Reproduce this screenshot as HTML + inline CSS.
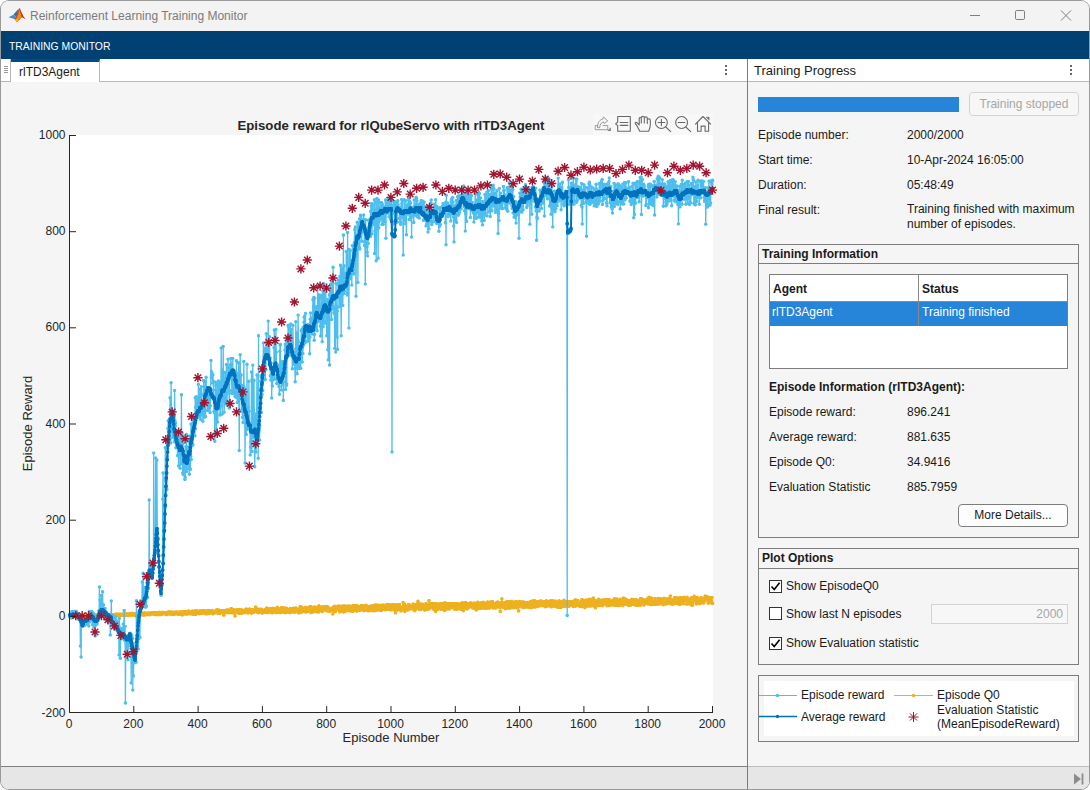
<!DOCTYPE html>
<html><head><meta charset="utf-8"><title>Reinforcement Learning Training Monitor</title>
<style>
*{box-sizing:border-box;margin:0;padding:0}
html,body{width:1090px;height:790px;overflow:hidden;background:#fff;font-family:"Liberation Sans",sans-serif;font-size:12px;color:#1a1a1a}
.abs{position:absolute}
#desk{position:absolute;left:0;top:0;width:1090px;height:790px;background:#fdfdfd;overflow:hidden}
#win{position:absolute;left:1px;top:1px;width:1088px;height:788px;border-radius:8px;background:#f5f5f5;overflow:hidden;box-shadow:0 0 0 1px #9a9a9a}
#title{position:absolute;left:0;top:0;width:100%;height:30px;background:#f3f3f3}
#title .txt{position:absolute;left:29px;top:8px;font-size:12px;color:#7b7b7b;white-space:nowrap;letter-spacing:0}
#band{position:absolute;left:0;top:30px;width:100%;height:28px;background:#004073}
#band .txt{position:absolute;left:8px;top:9.5px;font-size:10.4px;color:#fff;white-space:nowrap}
#tabrow{position:absolute;left:0;top:58px;width:746px;height:23px;background:#fff;border-bottom:1px solid #b9b9b9}
#grip{position:absolute;left:0;top:0;width:10px;height:23px;background:#fff;border-right:1px solid #b5b5b5;border-bottom:1px solid #b5b5b5}
#tab{position:absolute;left:10px;top:0;width:89px;height:23px;background:#fff;border-top:3px solid #004b87;border-right:1px solid #b5b5b5}
#tab .txt{position:absolute;left:8px;top:3px;font-size:12px;color:#1a1a1a}
#fig{position:absolute;left:0;top:81px;width:746px;height:685px;background:#f5f5f5}
#vdiv{position:absolute;left:746px;top:58px;width:1px;height:730px;background:#7c7c7c;z-index:5}
#status{position:absolute;left:0;top:765px;width:100%;height:23px;background:#e6e6e6;border-top:1px solid #bdbdbd}
#status .l{position:absolute;left:0;top:-1px;width:746px;height:1px;background:#808080}
#rhead{position:absolute;left:747px;top:58px;width:341px;height:23px;background:#fff;border-bottom:1px solid #b9b9b9}
#rhead .txt{position:absolute;left:6px;top:4px;font-size:13px;color:#1a1a1a}
#rpanel{position:absolute;left:749px;top:81px;width:339px;height:684px;background:#f5f5f5}
.lbl{position:absolute;white-space:nowrap;font-size:12px;color:#1a1a1a}
.b{font-weight:bold}
.grp{position:absolute;border:1px solid #7d7d7d;background:#f5f5f5}
.grp .hd{position:absolute;left:0;top:0;width:100%;height:19px;border-bottom:1px solid #7d7d7d;font-weight:bold;font-size:12px;padding:2px 0 0 3px}
.grp .hd.h20{height:20px;padding-top:2px}
.btn{position:absolute;border:1px solid #7d7d7d;border-radius:4px;background:#fdfdfd;text-align:center;font-size:12px}
.cb{position:absolute;width:13px;height:13px;border:1px solid #333;background:#fff}
svg.plot{position:absolute;left:60px;top:125px}
.tick{position:absolute;font-size:12px;color:#262626;white-space:nowrap}
.tick.xt{top:717px;width:60px;text-align:center;margin-left:-0.5px}
.btn.dis{border-color:#d2d2d2;color:#a6a6a6;background:#f7f7f7}
.th{font-weight:bold;font-size:12px}
#tbar{}

</style></head>
<body>
<div id="desk">
<div id="win">
  <div id="title">
    <svg class="abs" style="left:4.5px;top:4px" width="22" height="22" viewBox="0 0 22 22">
      <path d="M2.6 12.2 L7.5 9.8 L10 11.8 L8.2 14 Z" fill="#3b8fd0"/>
      <path d="M7.5 9.6 L10.2 6.6 L12.6 3.6 L10.8 10.5 L10 11.8 Z" fill="#2f6fa5"/>
      <path d="M8.2 14 L10 11.8 L12 6 L13.2 3.2 L14 3.6 L15.4 7 L17.6 11.6 L19.6 14.4 L17.4 13 L15.6 12.2 L13.6 14.6 L11.2 17 Z" fill="#c8371a"/>
      <path d="M11.2 17 L9.8 15 L12.6 8 L13.4 4 L14.8 9 L15.6 12.2 L13.6 14.6 Z" fill="#f08a1d"/>
      <path d="M9 14.6 L11.2 17 L12.4 15.2 L10.4 13.6 Z" fill="#f6b31c"/>
    </svg>
    <div class="txt">Reinforcement Learning Training Monitor</div>
    <svg class="abs" style="left:960px;top:0" width="128" height="30" viewBox="0 0 128 30" fill="none" stroke="#7e7e7e" stroke-width="1">
      <path d="M9 14.5H19"/>
      <rect x="54.5" y="9.5" width="9" height="9" rx="1.2"/>
      <path d="M100 9.5L110 19.5M110 9.5L100 19.5"/>
    </svg>
  </div>
  <div id="band"><div class="txt">TRAINING MONITOR</div></div>
  <div id="tabrow"><div id="grip"><svg class="abs" style="left:3px;top:0" width="6" height="20"><path d="M0 7.5H4M0 9.5H4M0 11.5H4M0 13.5H4" stroke="#999" stroke-width="1"/></svg></div><div id="tab"><div class="txt">rlTD3Agent</div></div>
    <svg class="abs" style="left:722px;top:6px" width="6" height="12"><rect x="2" y="0" width="2" height="2" fill="#666"/><rect x="2" y="4" width="2" height="2" fill="#666"/><rect x="2" y="8" width="2" height="2" fill="#666"/></svg>
  </div>
  <div id="fig">
    <div id="tbar"></div>
  </div>
  <div id="rhead"><div class="txt">Training Progress</div>
    <svg class="abs" style="left:320px;top:6px" width="6" height="12"><rect x="2" y="0" width="2" height="2" fill="#666"/><rect x="2" y="4" width="2" height="2" fill="#666"/><rect x="2" y="8" width="2" height="2" fill="#666"/></svg>
  </div>
  <div id="rpanel">
    <!-- coordinates inside rpanel: subtract (750,82) from page coords -->
    <div class="abs" style="left:8px;top:15px;width:201px;height:15px;background:#2684d9"></div>
    <div class="btn dis" style="left:219px;top:10px;width:110px;height:24px;line-height:22px">Training stopped</div>

    <div class="lbl" style="left:8px;top:46px">Episode number:</div><div class="lbl" style="left:157px;top:46px">2000/2000</div>
    <div class="lbl" style="left:8px;top:71px">Start time:</div><div class="lbl" style="left:157px;top:71px">10-Apr-2024 16:05:00</div>
    <div class="lbl" style="left:8px;top:96px">Duration:</div><div class="lbl" style="left:157px;top:96px">05:48:49</div>
    <div class="lbl" style="left:8px;top:121px">Final result:</div><div class="lbl" style="left:157px;top:121px;line-height:14.5px;top:120px">Training finished with maximum<br>number of episodes.</div>

    <div class="grp" style="left:8px;top:162px;width:321px;height:294px">
      <div class="hd">Training Information</div>
      <div class="abs" style="left:10px;top:29px;width:299px;height:95px;border:1px solid #7d7d7d;background:#fff">
        <div class="abs" style="left:0;top:0;width:297px;height:27px;background:#fff;border-bottom:1px solid #8a8a8a"></div>
        <div class="abs" style="left:148px;top:0;width:1px;height:51px;background:#8a8a8a"></div>
        <div class="abs th" style="left:3px;top:7px">Agent</div>
        <div class="abs th" style="left:152px;top:7px">Status</div>
        <div class="abs" style="left:0;top:27px;width:148px;height:24px;background:#2684d9;color:#fff;padding:3px 0 0 2px">rlTD3Agent</div>
        <div class="abs" style="left:149px;top:27px;width:148px;height:24px;background:#2684d9;color:#fff;padding:3px 0 0 3px">Training finished</div>
      </div>
      <div class="lbl b" style="left:10px;top:135px">Episode Information (rlTD3Agent):</div>
      <div class="lbl" style="left:10px;top:160px">Episode reward:</div><div class="lbl" style="left:148px;top:160px">896.241</div>
      <div class="lbl" style="left:10px;top:185px">Average reward:</div><div class="lbl" style="left:148px;top:185px">881.635</div>
      <div class="lbl" style="left:10px;top:210px">Episode Q0:</div><div class="lbl" style="left:148px;top:210px">34.9416</div>
      <div class="lbl" style="left:10px;top:235px">Evaluation Statistic</div><div class="lbl" style="left:148px;top:235px">885.7959</div>
      <div class="btn" style="left:199px;top:259px;width:110px;height:23px;line-height:21px">More Details...</div>
    </div>

    <div class="grp" style="left:8px;top:466px;width:321px;height:117px">
      <div class="hd h20">Plot Options</div>
      <div class="cb" style="left:10px;top:31px"><svg width="11" height="11" viewBox="0 0 11 11"><path d="M1.5 5.5L4.2 8.6L9.6 1.8" stroke="#000" stroke-width="1.6" fill="none"/></svg></div>
      <div class="lbl" style="left:27px;top:30px">Show EpisodeQ0</div>
      <div class="cb" style="left:10px;top:58px"></div>
      <div class="lbl" style="left:27px;top:58px">Show last N episodes</div>
      <div class="abs" style="left:172px;top:55px;width:137px;height:20px;border:1px solid #d2d2d2;background:#f7f7f7;color:#a6a6a6;text-align:right;padding:2px 4px 0 0">2000</div>
      <div class="cb" style="left:10px;top:88px"><svg width="11" height="11" viewBox="0 0 11 11"><path d="M1.5 5.5L4.2 8.6L9.6 1.8" stroke="#000" stroke-width="1.6" fill="none"/></svg></div>
      <div class="lbl" style="left:27px;top:87px">Show Evaluation statistic</div>
    </div>

    <div class="grp" style="left:8px;top:593px;width:321px;height:67px">
      <div class="abs" style="left:5px;top:5px;width:310px;height:55px;background:#fff"></div>
      <svg class="abs" style="left:0;top:0" width="319" height="65" viewBox="0 0 319 65">
        <path d="M0 19.5H38" stroke="#4dbeee" stroke-width="1"/><circle cx="18.5" cy="19.5" r="1.7" fill="#4dbeee"/>
        <path d="M0 40.5H38" stroke="#0072bd" stroke-width="1.3"/><circle cx="18.5" cy="40.5" r="1.7" fill="#0072bd"/>
        <path d="M135 19.5H174" stroke="#edb120" stroke-width="1"/><circle cx="154.5" cy="19.5" r="1.7" fill="#edb120"/>
        <path d="M154.5 36V46M149.5 41H159.5M151 37.5L158 44.5M151 44.5L158 37.5" stroke="#a2142f" stroke-width="1" fill="none"/>
      </svg>
      <div class="lbl lg" style="left:42px;top:12px">Episode reward</div>
      <div class="lbl lg" style="left:42px;top:34px">Average reward</div>
      <div class="lbl lg" style="left:178px;top:12px">Episode Q0</div>
      <div class="lbl lg" style="left:178px;top:27px;line-height:14px">Evaluation Statistic<br>(MeanEpisodeReward)</div>
    </div>
  </div>
  <div id="vdiv"></div>
  <div id="status"><div class="l"></div>
    <svg class="abs" style="left:1072px;top:5px" width="12" height="14" viewBox="0 0 12 14"><path d="M1 1.5L8 7L1 12.5Z" fill="#8c8c8c"/><path d="M9.5 1.5V12.5" stroke="#8c8c8c" stroke-width="1.8"/></svg>
  </div>
</div>
<svg class="plot" width="660" height="600" viewBox="60 125 660 600">
<defs><marker id="mq" markerWidth="4" markerHeight="4" refX="2" refY="2" markerUnits="userSpaceOnUse"><circle cx="2" cy="2" r="1.8" fill="#edb120"/></marker><marker id="me" markerWidth="4" markerHeight="4" refX="2" refY="2" markerUnits="userSpaceOnUse"><circle cx="2" cy="2" r="1.7" fill="#4dbeee"/></marker><marker id="ma" markerWidth="4" markerHeight="4" refX="2" refY="2" markerUnits="userSpaceOnUse"><circle cx="2" cy="2" r="1.9" fill="#0072bd"/></marker><g id="st"><path d="M0-4.6V4.6M-4.6 0H4.6M-3.25-3.25L3.25 3.25M-3.25 3.25L3.25-3.25" stroke="#a2142f" stroke-width="1.4" fill="none"/></g></defs>
<rect x="69" y="135" width="644" height="578" fill="#fff"/>
<polyline fill="none" stroke="#edb120" stroke-width="1" stroke-linejoin="round" marker-start="url(#mq)" marker-mid="url(#mq)" marker-end="url(#mq)" points="69.8,616.5 70.1,616.6 70.5,616.7 70.8,616.3 71.1,616.3 71.4,616.6 71.8,616.4 72.1,616.6 72.4,616.3 72.7,616.2 73.0,616.5 73.4,616.6 73.7,616.2 74.0,616.3 74.3,616.2 74.6,616.3 75.0,616.5 75.3,616.4 75.6,616.6 75.9,616.5 76.3,616.1 76.6,616.3 76.9,616.1 77.2,616.3 77.5,616.4 77.9,616.2 78.2,616.1 78.5,616.3 78.8,616.4 79.1,616.0 79.5,616.0 79.8,616.1 80.1,615.9 80.4,616.0 80.8,616.1 81.1,616.3 81.4,615.9 81.7,615.8 82.0,616.1 82.4,616.0 82.7,615.9 83.0,615.9 83.3,615.9 83.6,616.1 84.0,615.9 84.3,616.3 84.6,615.9 84.9,615.9 85.3,616.0 85.6,615.8 85.9,615.6 86.2,615.7 86.5,615.7 86.9,615.7 87.2,615.9 87.5,616.0 87.8,616.2 88.1,615.6 88.5,616.0 88.8,615.7 89.1,615.6 89.4,615.9 89.8,615.5 90.1,615.7 90.4,616.0 90.7,615.5 91.0,615.6 91.4,615.4 91.7,615.6 92.0,615.7 92.3,615.9 92.6,615.9 93.0,615.7 93.3,615.4 93.6,615.7 93.9,615.5 94.3,615.5 94.6,615.3 94.9,615.8 95.2,615.8 95.5,615.2 95.9,615.3 96.2,615.5 96.5,615.2 96.8,615.8 97.1,615.2 97.5,615.4 97.8,615.2 98.1,615.5 98.4,615.4 98.8,615.3 99.1,615.7 99.4,615.8 99.7,615.5 100.0,615.7 100.4,615.6 100.7,615.3 101.0,615.7 101.3,615.0 101.7,615.2 102.0,615.4 102.3,615.0 102.6,615.7 102.9,614.9 103.3,615.0 103.6,615.3 103.9,615.0 104.2,615.4 104.5,615.6 104.9,615.6 105.2,615.0 105.5,615.4 105.8,615.4 106.2,614.9 106.5,614.8 106.8,615.3 107.1,615.3 107.4,615.1 107.8,615.2 108.1,614.7 108.4,615.1 108.7,615.3 109.0,615.6 109.4,614.6 109.7,615.2 110.0,614.6 110.3,614.6 110.7,615.1 111.0,615.3 111.3,614.8 111.6,615.4 111.9,614.7 112.3,615.5 112.6,614.9 112.9,614.7 113.2,614.8 113.5,614.5 113.9,615.4 114.2,614.7 114.5,614.7 114.8,614.6 115.2,614.9 115.5,614.2 115.8,615.0 116.1,615.1 116.4,614.3 116.8,614.5 117.1,614.3 117.4,614.7 117.7,615.3 118.0,614.7 118.4,614.9 118.7,614.3 119.0,614.8 119.3,614.7 119.7,615.1 120.0,614.2 120.3,614.9 120.6,615.1 120.9,614.2 121.3,614.6 121.6,615.1 121.9,614.8 122.2,614.6 122.5,614.3 122.9,615.2 123.2,614.7 123.5,614.1 123.8,614.6 124.2,615.1 124.5,613.8 124.8,614.2 125.1,615.0 125.4,614.0 125.8,615.0 126.1,615.0 126.4,614.1 126.7,615.0 127.0,614.0 127.4,614.8 127.7,614.5 128.0,614.3 128.3,615.2 128.7,615.0 129.0,614.3 129.3,614.1 129.6,614.4 129.9,614.3 130.3,614.9 130.6,613.9 130.9,614.1 131.2,613.8 131.5,614.9 131.9,613.3 132.2,615.0 132.5,614.2 132.8,614.6 133.2,614.2 133.5,614.2 133.8,614.7 134.1,614.6 134.4,613.5 134.8,615.2 135.1,614.4 135.4,613.7 135.7,613.9 136.1,613.5 136.4,614.8 136.7,614.6 137.0,613.4 137.3,614.1 137.7,614.5 138.0,613.4 138.3,613.6 138.6,614.0 138.9,614.6 139.3,614.3 139.6,613.5 139.9,614.5 140.2,613.3 140.6,614.2 140.9,614.1 141.2,613.6 141.5,612.7 141.8,613.8 142.2,613.6 142.5,614.7 142.8,614.6 143.1,614.9 143.4,614.3 143.8,613.7 144.1,613.0 144.4,613.9 144.7,614.6 145.1,613.3 145.4,614.2 145.7,614.9 146.0,613.6 146.3,614.0 146.7,613.1 147.0,614.1 147.3,613.3 147.6,613.9 147.9,613.9 148.3,614.1 148.6,613.4 148.9,614.8 149.2,613.2 149.6,613.5 149.9,613.3 150.2,614.6 150.5,613.3 150.8,613.8 151.2,613.3 151.5,613.7 151.8,612.9 152.1,613.1 152.4,613.6 152.8,612.7 153.1,613.7 153.4,613.0 153.7,612.9 154.1,614.4 154.4,613.1 154.7,613.6 155.0,612.6 155.3,614.7 155.7,614.1 156.0,612.7 156.3,613.4 156.6,614.3 156.9,613.5 157.3,613.6 157.6,613.4 157.9,612.8 158.2,614.7 158.6,612.6 158.9,613.2 159.2,612.4 159.5,613.5 159.8,614.1 160.2,614.6 160.5,613.4 160.8,612.8 161.1,612.5 161.4,613.8 161.8,614.0 162.1,614.1 162.4,612.4 162.7,613.0 163.1,613.3 163.4,613.7 163.7,612.8 164.0,613.3 164.3,612.7 164.7,613.4 165.0,612.7 165.3,613.8 165.6,612.8 165.9,614.2 166.3,614.5 166.6,613.3 166.9,612.6 167.2,614.5 167.6,612.3 167.9,613.4 168.2,612.8 168.5,612.3 168.8,613.5 169.2,612.9 169.5,611.8 169.8,614.1 170.1,613.2 170.5,613.0 170.8,612.9 171.1,613.5 171.4,614.1 171.7,612.0 172.1,612.7 172.4,612.8 172.7,614.5 173.0,613.1 173.3,612.3 173.7,614.3 174.0,613.9 174.3,614.1 174.6,612.8 175.0,613.5 175.3,612.7 175.6,613.6 175.9,612.1 176.2,612.9 176.6,612.1 176.9,612.8 177.2,614.0 177.5,613.2 177.8,613.7 178.2,613.5 178.5,614.3 178.8,612.2 179.1,612.8 179.5,613.5 179.8,612.3 180.1,613.0 180.4,614.2 180.7,612.0 181.1,612.0 181.4,612.7 181.7,612.5 182.0,612.7 182.3,615.0 182.7,612.1 183.0,612.4 183.3,613.5 183.6,612.1 184.0,613.4 184.3,612.3 184.6,611.6 184.9,614.0 185.2,613.7 185.6,612.2 185.9,613.0 186.2,611.6 186.5,613.9 186.8,612.6 187.2,611.8 187.5,613.8 187.8,611.8 188.1,613.7 188.5,611.1 188.8,611.4 189.1,612.7 189.4,613.7 189.7,612.1 190.1,612.5 190.4,613.1 190.7,613.6 191.0,613.3 191.3,612.8 191.7,611.9 192.0,613.9 192.3,613.4 192.6,611.0 193.0,613.0 193.3,614.2 193.6,611.8 193.9,614.2 194.2,613.0 194.6,611.8 194.9,611.0 195.2,611.2 195.5,612.6 195.8,614.3 196.2,610.9 196.5,613.4 196.8,610.8 197.1,611.9 197.5,612.0 197.8,611.3 198.1,611.8 198.4,612.4 198.7,612.0 199.1,613.6 199.4,612.4 199.7,611.1 200.0,611.5 200.4,611.2 200.7,611.6 201.0,612.6 201.3,613.3 201.6,611.3 202.0,612.8 202.3,610.7 202.6,612.9 202.9,611.4 203.2,610.8 203.6,610.8 203.9,610.6 204.2,612.0 204.5,611.2 204.9,613.2 205.2,613.6 205.5,611.2 205.8,612.7 206.1,613.8 206.5,613.3 206.8,612.3 207.1,610.9 207.4,612.3 207.7,613.8 208.1,611.3 208.4,610.5 208.7,613.4 209.0,611.0 209.4,610.5 209.7,612.4 210.0,610.9 210.3,611.6 210.6,612.9 211.0,611.5 211.3,612.5 211.6,611.3 211.9,610.5 212.2,612.6 212.6,611.4 212.9,613.6 213.2,613.6 213.5,611.4 213.9,611.9 214.2,612.4 214.5,611.6 214.8,612.7 215.1,612.6 215.5,611.6 215.8,611.0 216.1,611.1 216.4,611.7 216.7,610.1 217.1,610.1 217.4,610.3 217.7,612.7 218.0,613.0 218.4,613.4 218.7,610.0 219.0,611.6 219.3,613.5 219.6,613.3 220.0,611.3 220.3,611.1 220.6,612.3 220.9,612.0 221.2,611.6 221.6,610.7 221.9,610.8 222.2,612.2 222.5,612.3 222.9,612.2 223.2,613.3 223.5,611.1 223.8,615.2 224.1,610.7 224.5,612.7 224.8,612.3 225.1,612.7 225.4,611.9 225.7,611.2 226.1,611.9 226.4,610.2 226.7,611.3 227.0,610.5 227.4,609.9 227.7,610.5 228.0,612.7 228.3,612.2 228.6,610.4 229.0,612.0 229.3,611.8 229.6,612.3 229.9,612.0 230.2,612.7 230.6,611.8 230.9,612.0 231.2,608.6 231.5,611.8 231.9,612.0 232.2,612.8 232.5,611.6 232.8,611.8 233.1,610.4 233.5,611.0 233.8,609.7 234.1,612.1 234.4,613.3 234.8,612.7 235.1,616.1 235.4,612.6 235.7,611.1 236.0,611.6 236.4,610.0 236.7,611.9 237.0,612.2 237.3,609.8 237.6,610.6 238.0,611.0 238.3,609.7 238.6,610.1 238.9,613.3 239.3,609.7 239.6,612.5 239.9,610.4 240.2,612.1 240.5,612.1 240.9,611.6 241.2,613.3 241.5,609.9 241.8,612.2 242.1,610.7 242.5,612.3 242.8,612.9 243.1,612.2 243.4,611.3 243.8,611.6 244.1,610.3 244.4,611.5 244.7,611.2 245.0,610.9 245.4,612.6 245.7,611.7 246.0,609.8 246.3,609.1 246.6,611.2 247.0,610.0 247.3,609.6 247.6,610.3 247.9,613.0 248.3,612.5 248.6,610.5 248.9,610.3 249.2,610.9 249.5,609.1 249.9,611.0 250.2,610.7 250.5,609.8 250.8,610.9 251.1,609.6 251.5,613.1 251.8,609.6 252.1,612.0 252.4,610.7 252.8,610.7 253.1,610.2 253.4,612.4 253.7,610.5 254.0,611.0 254.4,609.9 254.7,611.5 255.0,611.1 255.3,610.8 255.6,607.1 256.0,609.7 256.3,611.6 256.6,610.4 256.9,611.9 257.3,610.0 257.6,611.6 257.9,609.0 258.2,609.8 258.5,612.7 258.9,610.2 259.2,611.3 259.5,611.6 259.8,612.0 260.1,609.9 260.5,609.2 260.8,611.4 261.1,610.8 261.4,611.5 261.8,609.4 262.1,613.1 262.4,610.9 262.7,612.7 263.0,612.1 263.4,611.6 263.7,611.2 264.0,611.1 264.3,612.1 264.7,611.3 265.0,609.7 265.3,611.6 265.6,610.0 265.9,612.2 266.3,611.9 266.6,608.1 266.9,611.8 267.2,608.6 267.5,611.7 267.9,612.6 268.2,608.6 268.5,611.2 268.8,609.2 269.2,610.7 269.5,609.0 269.8,611.0 270.1,610.7 270.4,609.8 270.8,612.6 271.1,608.7 271.4,609.5 271.7,610.1 272.0,611.1 272.4,608.3 272.7,612.4 273.0,612.7 273.3,610.0 273.7,609.6 274.0,609.3 274.3,608.9 274.6,610.7 274.9,611.1 275.3,609.4 275.6,610.8 275.9,611.9 276.2,610.7 276.5,612.5 276.9,611.2 277.2,607.3 277.5,612.3 277.8,609.9 278.2,611.3 278.5,611.9 278.8,611.6 279.1,612.4 279.4,610.2 279.8,609.6 280.1,612.6 280.4,611.3 280.7,608.6 281.0,612.4 281.4,609.8 281.7,607.6 282.0,611.9 282.3,610.1 282.7,611.1 283.0,608.6 283.3,608.3 283.6,611.5 283.9,608.4 284.3,608.2 284.6,612.5 284.9,608.3 285.2,609.5 285.5,612.5 285.9,610.0 286.2,608.4 286.5,608.5 286.8,612.1 287.2,610.0 287.5,611.9 287.8,610.8 288.1,611.0 288.4,609.5 288.8,611.1 289.1,609.8 289.4,610.9 289.7,612.6 290.0,609.3 290.4,608.5 290.7,612.2 291.0,610.2 291.3,610.8 291.7,609.4 292.0,608.9 292.3,609.9 292.6,611.6 292.9,611.6 293.3,608.2 293.6,610.3 293.9,610.5 294.2,612.2 294.6,609.4 294.9,611.2 295.2,609.1 295.5,611.9 295.8,608.0 296.2,609.3 296.5,609.3 296.8,610.0 297.1,610.5 297.4,610.1 297.8,609.1 298.1,610.3 298.4,612.2 298.7,610.6 299.1,612.9 299.4,609.1 299.7,611.8 300.0,612.0 300.3,606.6 300.7,609.1 301.0,610.7 301.3,611.0 301.6,607.9 301.9,612.1 302.3,608.1 302.6,610.4 302.9,608.2 303.2,610.7 303.6,609.6 303.9,611.4 304.2,610.8 304.5,608.9 304.8,608.8 305.2,611.3 305.5,607.4 305.8,612.1 306.1,609.8 306.4,610.7 306.8,608.7 307.1,611.1 307.4,608.8 307.7,607.9 308.1,611.0 308.4,611.3 308.7,610.8 309.0,611.4 309.3,609.2 309.7,607.1 310.0,608.2 310.3,606.7 310.6,611.2 310.9,612.6 311.3,607.0 311.6,608.3 311.9,611.5 312.2,611.9 312.6,611.7 312.9,609.7 313.2,611.1 313.5,611.7 313.8,608.1 314.2,608.1 314.5,607.1 314.8,607.8 315.1,607.3 315.4,608.6 315.8,609.2 316.1,607.8 316.4,610.2 316.7,611.8 317.1,608.3 317.4,610.3 317.7,608.1 318.0,607.0 318.3,608.6 318.7,612.0 319.0,605.9 319.3,607.3 319.6,610.6 319.9,608.8 320.3,608.8 320.6,608.7 320.9,610.3 321.2,609.4 321.6,609.2 321.9,610.9 322.2,606.8 322.5,611.5 322.8,607.6 323.2,609.3 323.5,608.4 323.8,606.9 324.1,607.6 324.4,609.6 324.8,609.7 325.1,608.9 325.4,606.7 325.7,609.5 326.1,609.5 326.4,609.1 326.7,606.5 327.0,610.9 327.3,608.6 327.7,608.5 328.0,607.0 328.3,609.9 328.6,608.4 329.0,610.3 329.3,609.1 329.6,611.3 329.9,610.2 330.2,609.6 330.6,610.1 330.9,609.4 331.2,610.1 331.5,610.3 331.8,609.8 332.2,608.0 332.5,608.3 332.8,613.9 333.1,610.9 333.5,607.3 333.8,611.2 334.1,610.4 334.4,611.5 334.7,606.3 335.1,611.5 335.4,611.2 335.7,609.6 336.0,608.1 336.3,607.7 336.7,608.2 337.0,609.2 337.3,606.8 337.6,608.4 338.0,608.7 338.3,606.1 338.6,610.0 338.9,609.0 339.2,607.3 339.6,607.6 339.9,611.9 340.2,611.4 340.5,610.0 340.8,606.2 341.2,611.1 341.5,611.3 341.8,606.4 342.1,610.7 342.5,609.7 342.8,606.7 343.1,609.2 343.4,611.2 343.7,611.9 344.1,605.9 344.4,610.5 344.7,606.3 345.0,609.6 345.3,611.3 345.7,607.6 346.0,609.2 346.3,610.2 346.6,608.9 347.0,607.2 347.3,608.0 347.6,606.0 347.9,608.5 348.2,607.7 348.6,610.3 348.9,608.3 349.2,610.8 349.5,610.4 349.8,606.0 350.2,609.8 350.5,607.9 350.8,607.1 351.1,610.7 351.5,609.7 351.8,611.2 352.1,608.0 352.4,611.2 352.7,608.3 353.1,605.6 353.4,610.7 353.7,605.7 354.0,608.2 354.3,608.5 354.7,610.5 355.0,609.0 355.3,609.2 355.6,607.3 356.0,605.6 356.3,609.4 356.6,611.1 356.9,605.7 357.2,608.4 357.6,608.8 357.9,606.8 358.2,607.5 358.5,608.1 358.9,610.4 359.2,606.6 359.5,609.7 359.8,607.7 360.1,610.1 360.5,609.8 360.8,607.5 361.1,606.8 361.4,605.5 361.7,607.2 362.1,607.4 362.4,607.6 362.7,609.4 363.0,606.4 363.4,609.1 363.7,610.8 364.0,605.7 364.3,608.4 364.6,610.4 365.0,607.0 365.3,608.3 365.6,609.4 365.9,606.0 366.2,605.3 366.6,609.9 366.9,608.7 367.2,608.6 367.5,606.8 367.9,610.7 368.2,610.6 368.5,606.6 368.8,609.7 369.1,610.6 369.5,609.4 369.8,608.1 370.1,609.1 370.4,610.1 370.7,606.2 371.1,610.6 371.4,609.5 371.7,608.5 372.0,608.5 372.4,605.8 372.7,610.5 373.0,609.5 373.3,607.5 373.6,606.0 374.0,608.4 374.3,606.0 374.6,610.7 374.9,609.2 375.2,605.0 375.6,610.4 375.9,605.8 376.2,608.6 376.5,608.0 376.9,608.3 377.2,608.8 377.5,605.0 377.8,608.9 378.1,610.0 378.5,606.3 378.8,609.5 379.1,607.6 379.4,606.1 379.7,608.1 380.1,610.2 380.4,606.4 380.7,605.2 381.0,606.7 381.4,610.5 381.7,607.9 382.0,609.5 382.3,608.7 382.6,605.9 383.0,605.1 383.3,609.1 383.6,605.7 383.9,609.3 384.2,609.4 384.6,605.7 384.9,608.1 385.2,609.8 385.5,606.8 385.9,609.1 386.2,607.4 386.5,604.9 386.8,609.5 387.1,605.8 387.5,608.2 387.8,604.6 388.1,606.9 388.4,609.1 388.7,605.1 389.1,604.5 389.4,607.4 389.7,609.1 390.0,609.7 390.4,609.1 390.7,607.4 391.0,607.0 391.3,609.8 391.6,606.0 392.0,607.6 392.3,604.6 392.6,608.1 392.9,607.7 393.3,605.7 393.6,608.0 393.9,605.7 394.2,609.8 394.5,609.8 394.9,604.9 395.2,605.0 395.5,612.8 395.8,608.5 396.1,607.0 396.5,608.5 396.8,608.0 397.1,610.1 397.4,607.2 397.8,607.5 398.1,604.7 398.4,605.5 398.7,605.4 399.0,606.2 399.4,604.5 399.7,609.6 400.0,607.1 400.3,609.5 400.6,608.8 401.0,611.0 401.3,607.3 401.6,609.0 401.9,608.5 402.3,608.3 402.6,607.0 402.9,609.1 403.2,602.7 403.5,604.5 403.9,607.6 404.2,606.9 404.5,604.1 404.8,611.3 405.1,606.6 405.5,608.5 405.8,606.2 406.1,606.3 406.4,607.2 406.8,607.6 407.1,607.4 407.4,606.1 407.7,610.0 408.0,609.8 408.4,608.0 408.7,604.8 409.0,604.6 409.3,608.1 409.6,607.8 410.0,609.0 410.3,605.7 410.6,607.3 410.9,606.6 411.3,606.8 411.6,607.5 411.9,607.0 412.2,607.9 412.5,607.0 412.9,609.0 413.2,604.0 413.5,609.0 413.8,607.1 414.1,605.6 414.5,605.6 414.8,610.8 415.1,605.2 415.4,606.5 415.8,607.0 416.1,604.6 416.4,606.0 416.7,608.7 417.0,604.2 417.4,606.9 417.7,603.9 418.0,601.2 418.3,605.6 418.6,607.5 419.0,603.9 419.3,607.4 419.6,609.4 419.9,609.3 420.3,604.3 420.6,609.6 420.9,606.3 421.2,608.4 421.5,604.2 421.9,607.3 422.2,608.3 422.5,604.2 422.8,606.5 423.2,606.7 423.5,606.5 423.8,605.7 424.1,606.9 424.4,609.9 424.8,609.8 425.1,607.6 425.4,609.5 425.7,605.2 426.0,603.6 426.4,605.2 426.7,608.7 427.0,607.6 427.3,607.7 427.7,609.4 428.0,605.5 428.3,605.2 428.6,605.0 428.9,600.7 429.3,608.5 429.6,608.1 429.9,605.6 430.2,604.7 430.5,605.2 430.9,603.7 431.2,603.8 431.5,607.0 431.8,607.1 432.2,607.4 432.5,605.0 432.8,603.6 433.1,607.9 433.4,607.4 433.8,609.5 434.1,603.9 434.4,604.6 434.7,608.9 435.0,606.8 435.4,607.8 435.7,611.5 436.0,606.8 436.3,603.6 436.7,607.6 437.0,605.9 437.3,605.7 437.6,605.1 437.9,609.3 438.3,607.4 438.6,604.3 438.9,608.4 439.2,608.2 439.5,605.5 439.9,608.2 440.2,606.4 440.5,603.5 440.8,608.9 441.2,607.7 441.5,609.3 441.8,609.1 442.1,604.4 442.4,606.1 442.8,605.6 443.1,607.8 443.4,603.2 443.7,608.5 444.0,608.2 444.4,609.0 444.7,610.5 445.0,602.9 445.3,607.6 445.7,606.7 446.0,607.9 446.3,603.6 446.6,607.6 446.9,609.1 447.3,607.7 447.6,604.7 447.9,608.2 448.2,607.0 448.5,608.3 448.9,603.6 449.2,603.5 449.5,609.0 449.8,607.9 450.2,605.8 450.5,607.8 450.8,605.4 451.1,603.6 451.4,607.4 451.8,605.0 452.1,604.5 452.4,603.6 452.7,604.5 453.0,606.3 453.4,604.0 453.7,605.2 454.0,607.4 454.3,609.0 454.7,604.3 455.0,609.1 455.3,604.1 455.6,604.2 455.9,608.0 456.3,603.7 456.6,605.6 456.9,609.2 457.2,607.9 457.6,609.0 457.9,607.0 458.2,603.9 458.5,605.7 458.8,605.1 459.2,605.8 459.5,606.9 459.8,606.6 460.1,608.4 460.4,605.2 460.8,603.8 461.1,609.4 461.4,607.0 461.7,603.3 462.1,605.0 462.4,602.8 462.7,603.6 463.0,605.8 463.3,610.6 463.7,608.0 464.0,608.0 464.3,604.9 464.6,608.8 464.9,607.5 465.3,602.7 465.6,607.1 465.9,602.8 466.2,604.4 466.6,605.5 466.9,609.0 467.2,608.3 467.5,608.0 467.8,603.8 468.2,606.7 468.5,607.6 468.8,605.6 469.1,604.5 469.4,605.5 469.8,603.7 470.1,606.6 470.4,603.7 470.7,602.9 471.1,605.1 471.4,604.5 471.7,605.2 472.0,606.9 472.3,607.2 472.7,604.2 473.0,607.9 473.3,606.2 473.6,607.6 473.9,603.0 474.3,605.3 474.6,607.1 474.9,605.9 475.2,608.4 475.6,605.6 475.9,604.3 476.2,610.0 476.5,606.8 476.8,602.8 477.2,607.0 477.5,605.0 477.8,602.3 478.1,608.6 478.4,605.9 478.8,603.5 479.1,603.7 479.4,604.7 479.7,604.1 480.1,603.8 480.4,608.3 480.7,606.8 481.0,602.8 481.3,607.5 481.7,604.1 482.0,608.1 482.3,602.8 482.6,603.6 482.9,607.4 483.3,602.2 483.6,604.4 483.9,602.8 484.2,603.9 484.6,608.0 484.9,608.3 485.2,603.7 485.5,607.1 485.8,606.9 486.2,604.1 486.5,604.2 486.8,606.3 487.1,608.2 487.4,602.1 487.8,605.0 488.1,607.9 488.4,603.3 488.7,602.8 489.1,606.0 489.4,603.3 489.7,608.0 490.0,607.2 490.3,602.1 490.7,603.6 491.0,606.7 491.3,605.8 491.6,604.0 492.0,605.6 492.3,601.6 492.6,603.3 492.9,605.6 493.2,603.8 493.6,607.9 493.9,606.2 494.2,605.4 494.5,606.1 494.8,607.1 495.2,605.2 495.5,605.4 495.8,608.0 496.1,602.8 496.5,605.6 496.8,604.4 497.1,606.6 497.4,605.7 497.7,602.1 498.1,605.6 498.4,605.1 498.7,605.0 499.0,603.7 499.3,607.2 499.7,605.2 500.0,602.9 500.3,611.5 500.6,606.0 501.0,606.4 501.3,606.9 501.6,603.8 501.9,598.9 502.2,603.4 502.6,604.0 502.9,603.0 503.2,603.3 503.5,607.3 503.8,606.3 504.2,604.5 504.5,604.2 504.8,602.9 505.1,606.4 505.5,608.8 505.8,603.5 506.1,602.1 506.4,603.0 506.7,603.6 507.1,602.4 507.4,601.7 507.7,607.8 508.0,606.1 508.3,602.2 508.7,604.6 509.0,608.3 509.3,603.0 509.6,601.5 510.0,607.0 510.3,602.3 510.6,603.9 510.9,604.0 511.2,607.7 511.6,601.6 511.9,601.4 512.2,607.1 512.5,602.6 512.8,605.7 513.2,607.8 513.5,604.4 513.8,606.0 514.1,604.1 514.5,607.3 514.8,602.2 515.1,605.1 515.4,604.2 515.7,605.2 516.1,601.5 516.4,604.3 516.7,607.7 517.0,604.0 517.3,603.9 517.7,603.8 518.0,606.2 518.3,606.6 518.6,610.9 519.0,603.4 519.3,601.5 519.6,605.4 519.9,606.1 520.2,605.0 520.6,601.9 520.9,604.2 521.2,605.7 521.5,604.5 521.9,604.3 522.2,607.1 522.5,603.1 522.8,604.9 523.1,601.9 523.5,603.5 523.8,602.6 524.1,607.4 524.4,602.8 524.7,607.4 525.1,605.4 525.4,606.6 525.7,603.4 526.0,606.3 526.4,605.6 526.7,602.7 527.0,605.3 527.3,602.6 527.6,602.8 528.0,605.7 528.3,607.4 528.6,607.2 528.9,603.8 529.2,605.2 529.6,604.2 529.9,604.5 530.2,601.9 530.5,605.1 530.9,606.1 531.2,601.2 531.5,607.6 531.8,604.6 532.1,606.4 532.5,605.9 532.8,601.3 533.1,603.1 533.4,603.9 533.7,606.8 534.1,600.6 534.4,603.9 534.7,606.8 535.0,601.4 535.4,606.9 535.7,601.8 536.0,604.8 536.3,605.5 536.6,605.8 537.0,602.9 537.3,606.2 537.6,602.0 537.9,606.3 538.2,603.8 538.6,601.6 538.9,604.8 539.2,603.8 539.5,604.5 539.9,605.1 540.2,605.7 540.5,604.6 540.8,600.8 541.1,603.7 541.5,605.4 541.8,605.8 542.1,604.4 542.4,604.3 542.7,601.5 543.1,604.2 543.4,605.1 543.7,602.6 544.0,602.4 544.4,603.8 544.7,601.7 545.0,606.7 545.3,603.4 545.6,601.7 546.0,602.3 546.3,600.8 546.6,606.3 546.9,602.8 547.2,601.9 547.6,604.5 547.9,605.5 548.2,604.2 548.5,601.7 548.9,605.7 549.2,602.5 549.5,602.2 549.8,603.5 550.1,603.7 550.5,600.8 550.8,606.3 551.1,606.7 551.4,603.6 551.8,606.6 552.1,604.0 552.4,601.0 552.7,600.8 553.0,603.7 553.4,604.5 553.7,604.9 554.0,605.9 554.3,604.6 554.6,605.9 555.0,601.4 555.3,602.8 555.6,606.3 555.9,601.3 556.3,604.0 556.6,606.8 556.9,603.5 557.2,602.6 557.5,603.6 557.9,604.2 558.2,606.5 558.5,607.4 558.8,603.6 559.1,600.9 559.5,603.3 559.8,605.4 560.1,602.1 560.4,601.6 560.8,607.3 561.1,605.5 561.4,606.2 561.7,606.7 562.0,604.7 562.4,603.6 562.7,603.0 563.0,603.6 563.3,601.3 563.6,605.7 564.0,600.4 564.3,601.4 564.6,606.5 564.9,606.5 565.3,605.3 565.6,602.7 565.9,603.0 566.2,605.1 566.5,602.3 566.9,604.5 567.2,601.5 567.5,601.9 567.8,605.2 568.1,606.3 568.5,602.6 568.8,606.2 569.1,602.9 569.4,602.2 569.8,605.8 570.1,601.5 570.4,603.0 570.7,602.5 571.0,603.2 571.4,601.9 571.7,603.4 572.0,603.9 572.3,603.5 572.6,605.6 573.0,602.4 573.3,606.5 573.6,603.9 573.9,601.4 574.3,601.1 574.6,600.9 574.9,605.1 575.2,606.2 575.5,599.9 575.9,603.9 576.2,602.0 576.5,605.6 576.8,602.3 577.1,603.2 577.5,600.6 577.8,602.9 578.1,605.5 578.4,602.2 578.8,602.8 579.1,602.3 579.4,602.5 579.7,606.3 580.0,602.5 580.4,603.6 580.7,605.2 581.0,606.5 581.3,601.5 581.6,602.1 582.0,599.6 582.3,605.4 582.6,606.5 582.9,600.5 583.3,603.3 583.6,603.2 583.9,604.5 584.2,603.6 584.5,602.2 584.9,607.8 585.2,600.8 585.5,605.1 585.8,605.6 586.2,600.1 586.5,605.1 586.8,604.3 587.1,601.3 587.4,606.2 587.8,602.8 588.1,604.2 588.4,599.9 588.7,602.8 589.0,602.8 589.4,601.9 589.7,599.2 590.0,600.6 590.3,606.2 590.7,602.3 591.0,603.3 591.3,604.9 591.6,601.4 591.9,601.3 592.3,599.6 592.6,599.8 592.9,604.7 593.2,598.1 593.5,601.1 593.9,606.2 594.2,604.5 594.5,601.7 594.8,604.1 595.2,600.2 595.5,607.8 595.8,604.6 596.1,602.5 596.4,605.7 596.8,605.2 597.1,601.8 597.4,603.3 597.7,601.5 598.0,602.8 598.4,603.7 598.7,599.3 599.0,605.5 599.3,603.0 599.7,603.4 600.0,603.4 600.3,605.0 600.6,602.8 600.9,601.5 601.3,604.9 601.6,600.2 601.9,600.3 602.2,600.5 602.5,605.7 602.9,601.6 603.2,602.9 603.5,601.5 603.8,603.7 604.2,604.0 604.5,599.6 604.8,602.6 605.1,601.7 605.4,601.6 605.8,604.0 606.1,603.0 606.4,599.8 606.7,600.1 607.0,605.3 607.4,605.7 607.7,601.3 608.0,601.5 608.3,603.8 608.7,599.5 609.0,602.0 609.3,600.1 609.6,605.4 609.9,600.0 610.3,604.3 610.6,603.1 610.9,601.9 611.2,602.1 611.5,605.0 611.9,601.8 612.2,603.7 612.5,601.1 612.8,604.2 613.2,601.1 613.5,600.3 613.8,603.0 614.1,605.2 614.4,598.8 614.8,599.7 615.1,603.2 615.4,600.6 615.7,605.3 616.1,604.8 616.4,601.6 616.7,604.7 617.0,599.1 617.3,603.3 617.7,605.4 618.0,604.6 618.3,605.3 618.6,602.7 618.9,601.1 619.3,602.4 619.6,605.5 619.9,603.5 620.2,599.3 620.6,603.5 620.9,600.4 621.2,600.4 621.5,601.1 621.8,602.0 622.2,604.2 622.5,601.7 622.8,605.6 623.1,599.0 623.4,598.1 623.8,602.3 624.1,603.0 624.4,599.7 624.7,603.6 625.1,599.1 625.4,599.2 625.7,604.5 626.0,602.6 626.3,602.9 626.7,599.9 627.0,601.0 627.3,602.8 627.6,600.9 627.9,601.2 628.3,602.1 628.6,605.4 628.9,600.8 629.2,602.9 629.6,600.5 629.9,603.0 630.2,603.8 630.5,605.2 630.8,604.5 631.2,602.9 631.5,601.8 631.8,599.3 632.1,603.2 632.4,603.8 632.8,602.9 633.1,601.1 633.4,599.6 633.7,604.2 634.1,602.5 634.4,604.0 634.7,604.6 635.0,600.6 635.3,602.6 635.7,602.5 636.0,599.5 636.3,605.3 636.6,603.8 636.9,605.0 637.3,605.3 637.6,601.7 637.9,603.1 638.2,600.6 638.6,604.0 638.9,604.5 639.2,600.2 639.5,605.0 639.8,601.5 640.2,605.0 640.5,598.7 640.8,599.0 641.1,604.9 641.4,598.7 641.8,601.4 642.1,600.1 642.4,599.3 642.7,602.1 643.1,602.0 643.4,602.9 643.7,600.9 644.0,605.0 644.3,600.4 644.7,603.4 645.0,600.3 645.3,600.8 645.6,602.9 645.9,600.4 646.3,602.5 646.6,600.7 646.9,599.3 647.2,603.2 647.6,599.0 647.9,604.0 648.2,599.3 648.5,599.4 648.8,597.9 649.2,597.4 649.5,602.7 649.8,604.1 650.1,599.8 650.5,598.3 650.8,599.7 651.1,604.6 651.4,602.0 651.7,598.2 652.1,603.6 652.4,603.6 652.7,602.2 653.0,602.7 653.3,603.2 653.7,601.0 654.0,604.3 654.3,604.4 654.6,601.5 655.0,598.5 655.3,603.6 655.6,602.3 655.9,603.2 656.2,604.4 656.6,604.3 656.9,602.7 657.2,603.0 657.5,600.8 657.8,603.8 658.2,598.5 658.5,600.9 658.8,599.2 659.1,604.0 659.5,599.1 659.8,602.0 660.1,602.6 660.4,598.7 660.7,603.7 661.1,602.8 661.4,602.1 661.7,600.7 662.0,603.1 662.3,602.0 662.7,602.5 663.0,604.0 663.3,604.7 663.6,599.0 664.0,598.4 664.3,602.8 664.6,599.4 664.9,601.9 665.2,602.3 665.6,602.8 665.9,602.5 666.2,602.3 666.5,604.0 666.8,598.9 667.2,601.8 667.5,602.6 667.8,600.1 668.1,601.4 668.5,602.7 668.8,599.0 669.1,601.2 669.4,599.3 669.7,598.9 670.1,603.7 670.4,596.1 670.7,599.7 671.0,602.4 671.3,600.0 671.7,602.8 672.0,602.4 672.3,604.2 672.6,600.1 673.0,602.6 673.3,604.0 673.6,602.8 673.9,603.4 674.2,600.0 674.6,597.8 674.9,598.0 675.2,598.6 675.5,598.9 675.8,598.1 676.2,603.4 676.5,601.0 676.8,599.0 677.1,597.8 677.5,600.2 677.8,603.6 678.1,602.1 678.4,603.2 678.7,599.0 679.1,598.8 679.4,601.7 679.7,604.5 680.0,597.9 680.4,598.2 680.7,597.8 681.0,599.1 681.3,602.5 681.6,602.5 682.0,603.6 682.3,598.5 682.6,597.7 682.9,602.6 683.2,600.1 683.6,603.8 683.9,603.4 684.2,597.4 684.5,598.1 684.9,600.0 685.2,599.7 685.5,599.3 685.8,600.6 686.1,600.8 686.5,599.5 686.8,604.2 687.1,597.4 687.4,600.0 687.7,600.9 688.1,602.3 688.4,602.4 688.7,599.8 689.0,603.0 689.4,599.3 689.7,603.7 690.0,601.5 690.3,602.3 690.6,604.3 691.0,599.3 691.3,597.9 691.6,601.5 691.9,602.6 692.2,605.4 692.6,603.5 692.9,598.1 693.2,600.1 693.5,599.3 693.9,598.4 694.2,596.4 694.5,600.1 694.8,599.7 695.1,598.5 695.5,601.1 695.8,601.1 696.1,601.1 696.4,603.9 696.7,601.5 697.1,597.5 697.4,599.2 697.7,601.5 698.0,598.2 698.4,602.2 698.7,601.1 699.0,599.4 699.3,599.9 699.6,603.6 700.0,600.0 700.3,603.1 700.6,600.8 700.9,598.6 701.2,597.6 701.6,599.3 701.9,601.3 702.2,602.6 702.5,602.0 702.9,602.1 703.2,599.2 703.5,598.5 703.8,603.0 704.1,600.7 704.5,598.5 704.8,599.0 705.1,596.1 705.4,599.8 705.7,597.2 706.1,597.8 706.4,600.0 706.7,597.1 707.0,596.8 707.4,597.2 707.7,597.9 708.0,603.1 708.3,600.8 708.6,600.0 709.0,603.0 709.3,597.9 709.6,600.9 709.9,601.3 710.2,601.4 710.6,601.9 710.9,600.8 711.2,597.7 711.5,601.9 711.9,597.7 712.2,603.5 712.5,603.3"/>
<polyline fill="none" stroke="#4dbeee" stroke-width="1.3" stroke-linejoin="round" marker-start="url(#me)" marker-mid="url(#me)" marker-end="url(#me)" points="69.8,616.6 70.1,617.3 70.5,613.0 70.8,618.1 71.1,614.0 71.4,613.1 71.8,614.4 72.1,611.5 72.4,614.9 72.7,615.6 73.0,615.2 73.4,616.7 73.7,615.5 74.0,615.8 74.3,611.4 74.6,615.0 75.0,613.5 75.3,614.6 75.6,614.5 75.9,614.5 76.3,611.1 76.6,612.2 76.9,615.3 77.2,617.6 77.5,616.9 77.9,618.2 78.2,619.0 78.5,618.1 78.8,616.5 79.1,615.6 79.5,616.4 79.8,618.1 80.1,619.8 80.4,646.0 80.8,620.8 81.1,657.0 81.4,623.1 81.7,623.2 82.0,624.8 82.4,626.2 82.7,623.5 83.0,621.7 83.3,624.0 83.6,622.7 84.0,620.9 84.3,620.3 84.6,625.6 84.9,618.4 85.3,619.8 85.6,621.4 85.9,618.6 86.2,620.3 86.5,624.2 86.9,622.4 87.2,621.0 87.5,621.3 87.8,618.5 88.1,619.9 88.5,616.0 88.8,626.0 89.1,617.8 89.4,611.6 89.8,621.9 90.1,615.0 90.4,613.7 90.7,615.0 91.0,620.4 91.4,617.0 91.7,611.4 92.0,616.1 92.3,612.6 92.6,624.6 93.0,619.6 93.3,613.5 93.6,619.7 93.9,627.1 94.3,621.6 94.6,615.6 94.9,619.7 95.2,636.0 95.5,625.2 95.9,619.8 96.2,623.6 96.5,622.2 96.8,620.9 97.1,623.7 97.5,619.9 97.8,619.9 98.1,620.6 98.4,618.5 98.8,611.0 99.1,613.6 99.4,587.0 99.7,617.8 100.0,600.0 100.4,614.7 100.7,610.5 101.0,611.6 101.3,595.4 101.7,613.9 102.0,611.4 102.3,612.4 102.6,591.8 102.9,604.8 103.3,613.8 103.6,604.9 103.9,609.8 104.2,611.5 104.5,614.0 104.9,608.5 105.2,618.8 105.5,612.6 105.8,614.4 106.2,613.1 106.5,617.5 106.8,617.1 107.1,618.7 107.4,614.5 107.8,616.2 108.1,617.5 108.4,622.6 108.7,618.2 109.0,616.4 109.4,621.4 109.7,615.8 110.0,619.2 110.3,635.0 110.7,616.3 111.0,616.3 111.3,601.0 111.6,616.2 111.9,622.8 112.3,615.7 112.6,615.2 112.9,625.7 113.2,623.6 113.5,626.8 113.9,625.8 114.2,617.9 114.5,628.7 114.8,624.8 115.2,624.1 115.5,625.5 115.8,616.8 116.1,620.4 116.4,629.2 116.8,621.5 117.1,629.9 117.4,631.2 117.7,622.2 118.0,623.2 118.4,622.9 118.7,625.8 119.0,655.0 119.3,618.5 119.7,633.2 120.0,634.9 120.3,658.2 120.6,630.1 120.9,628.1 121.3,637.0 121.6,634.5 121.9,638.9 122.2,633.5 122.5,638.2 122.9,629.6 123.2,624.0 123.5,630.9 123.8,629.1 124.2,610.5 124.5,640.1 124.8,638.7 125.1,626.5 125.4,703.0 125.8,638.5 126.1,643.1 126.4,642.1 126.7,639.0 127.0,648.0 127.4,645.0 127.7,636.0 128.0,659.8 128.3,637.1 128.7,642.7 129.0,635.4 129.3,643.5 129.6,645.5 129.9,634.9 130.3,633.3 130.6,637.4 130.9,648.4 131.2,683.0 131.5,634.7 131.9,635.7 132.2,648.4 132.5,638.6 132.8,690.0 133.2,643.2 133.5,676.0 133.8,653.2 134.1,654.3 134.4,662.9 134.8,661.3 135.1,659.3 135.4,649.7 135.7,653.8 136.1,662.2 136.4,600.8 136.7,616.6 137.0,637.9 137.3,641.7 137.7,636.9 138.0,622.8 138.3,648.9 138.6,638.9 138.9,622.5 139.3,614.3 139.6,616.6 139.9,637.3 140.2,612.9 140.6,608.6 140.9,608.0 141.2,608.8 141.5,605.1 141.8,607.6 142.2,582.0 142.5,604.0 142.8,605.7 143.1,573.2 143.4,605.4 143.8,591.1 144.1,600.6 144.4,604.8 144.7,587.6 145.1,600.3 145.4,599.8 145.7,607.3 146.0,595.4 146.3,606.0 146.7,598.3 147.0,582.4 147.3,584.0 147.6,597.2 147.9,582.3 148.3,577.2 148.6,588.3 148.9,570.1 149.2,500.0 149.6,576.1 149.9,567.3 150.2,565.7 150.5,573.6 150.8,577.5 151.2,565.6 151.5,568.4 151.8,575.4 152.1,577.2 152.4,567.2 152.8,564.4 153.1,566.9 153.4,566.8 153.7,453.0 154.1,563.2 154.4,557.1 154.7,545.3 155.0,547.4 155.3,552.4 155.7,458.0 156.0,543.4 156.3,534.7 156.6,523.7 156.9,460.0 157.3,531.5 157.6,528.7 157.9,554.1 158.2,538.1 158.6,550.7 158.9,567.0 159.2,580.5 159.5,572.6 159.8,584.9 160.2,580.1 160.5,591.7 160.8,587.2 161.1,595.3 161.4,588.9 161.8,583.1 162.1,576.5 162.4,569.9 162.7,499.1 163.1,473.0 163.4,535.6 163.7,563.7 164.0,521.1 164.3,526.5 164.7,530.5 165.0,507.3 165.3,447.7 165.6,480.8 165.9,480.8 166.3,473.4 166.6,485.9 166.9,489.5 167.2,456.5 167.6,448.6 167.9,428.6 168.2,420.8 168.5,444.6 168.8,440.8 169.2,435.4 169.5,433.4 169.8,423.6 170.1,397.7 170.5,412.9 170.8,442.9 171.1,382.7 171.4,410.6 171.7,420.0 172.1,431.7 172.4,429.3 172.7,437.2 173.0,423.2 173.3,412.7 173.7,429.0 174.0,416.0 174.3,441.8 174.6,390.6 175.0,420.7 175.3,426.1 175.6,423.1 175.9,447.7 176.2,442.6 176.6,441.6 176.9,447.1 177.2,431.3 177.5,455.6 177.8,436.2 178.2,440.3 178.5,465.9 178.8,438.6 179.1,453.6 179.5,438.5 179.8,444.2 180.1,468.2 180.4,433.1 180.7,450.6 181.1,463.9 181.4,394.7 181.7,443.4 182.0,433.5 182.3,435.7 182.7,472.9 183.0,443.2 183.3,474.7 183.6,461.9 184.0,468.8 184.3,472.4 184.6,461.4 184.9,479.6 185.2,477.4 185.6,467.9 185.9,446.6 186.2,448.7 186.5,434.4 186.8,471.6 187.2,459.5 187.5,447.3 187.8,450.4 188.1,449.9 188.5,468.6 188.8,459.9 189.1,440.6 189.4,474.3 189.7,436.0 190.1,452.4 190.4,469.3 190.7,456.5 191.0,424.0 191.3,459.5 191.7,437.2 192.0,445.8 192.3,418.8 192.6,416.5 193.0,444.7 193.3,428.7 193.6,430.7 193.9,424.9 194.2,423.4 194.6,419.8 194.9,435.8 195.2,397.7 195.5,428.7 195.8,407.2 196.2,396.7 196.5,411.5 196.8,405.0 197.1,415.7 197.5,406.2 197.8,398.4 198.1,417.3 198.4,384.4 198.7,407.3 199.1,416.6 199.4,412.1 199.7,398.7 200.0,389.3 200.4,415.2 200.7,419.6 201.0,413.6 201.3,386.7 201.6,406.2 202.0,411.4 202.3,413.1 202.6,407.0 202.9,421.3 203.2,394.7 203.6,380.5 203.9,402.6 204.2,417.3 204.5,387.1 204.9,399.1 205.2,381.7 205.5,416.5 205.8,394.2 206.1,377.2 206.5,400.3 206.8,400.5 207.1,389.1 207.4,410.4 207.7,388.4 208.1,389.4 208.4,391.6 208.7,409.5 209.0,402.2 209.4,404.0 209.7,396.5 210.0,412.5 210.3,405.8 210.6,396.0 211.0,360.4 211.3,377.7 211.6,371.8 211.9,375.8 212.2,374.3 212.6,383.1 212.9,374.8 213.2,381.1 213.5,390.0 213.9,411.6 214.2,399.2 214.5,412.6 214.8,441.3 215.1,406.2 215.5,382.3 215.8,385.6 216.1,395.3 216.4,429.0 216.7,417.8 217.1,397.5 217.4,384.2 217.7,422.1 218.0,405.1 218.4,381.0 218.7,393.4 219.0,395.2 219.3,407.7 219.6,384.1 220.0,415.1 220.3,414.6 220.6,387.4 220.9,382.3 221.2,348.0 221.6,390.9 221.9,405.8 222.2,414.0 222.5,370.2 222.9,399.4 223.2,346.5 223.5,392.0 223.8,395.5 224.1,412.3 224.5,402.3 224.8,372.5 225.1,400.7 225.4,395.2 225.7,403.0 226.1,379.4 226.4,364.6 226.7,401.0 227.0,404.8 227.4,386.8 227.7,385.6 228.0,359.1 228.3,380.3 228.6,367.6 229.0,392.9 229.3,408.0 229.6,390.6 229.9,377.0 230.2,364.9 230.6,370.6 230.9,358.5 231.2,364.2 231.5,372.7 231.9,393.6 232.2,379.5 232.5,390.7 232.8,358.6 233.1,380.0 233.5,393.2 233.8,371.5 234.1,393.3 234.4,374.6 234.8,390.3 235.1,396.5 235.4,373.9 235.7,382.6 236.0,397.2 236.4,360.7 236.7,373.7 237.0,386.5 237.3,402.4 237.6,375.2 238.0,373.4 238.3,399.7 238.6,362.8 238.9,399.3 239.3,450.6 239.6,391.7 239.9,373.4 240.2,354.7 240.5,391.5 240.9,387.9 241.2,375.0 241.5,410.8 241.8,388.2 242.1,409.8 242.5,417.4 242.8,385.5 243.1,422.6 243.4,412.0 243.8,361.5 244.1,387.5 244.4,394.3 244.7,394.1 245.0,463.0 245.4,407.4 245.7,396.7 246.0,411.3 246.3,434.4 246.6,429.5 247.0,364.2 247.3,421.0 247.6,424.1 247.9,407.1 248.3,427.8 248.6,419.0 248.9,381.3 249.2,411.1 249.5,429.0 249.9,429.2 250.2,455.0 250.5,447.3 250.8,423.1 251.1,442.6 251.5,372.0 251.8,451.5 252.1,379.6 252.4,407.7 252.8,365.1 253.1,437.5 253.4,410.0 253.7,426.4 254.0,380.3 254.4,445.0 254.7,466.8 255.0,451.7 255.3,414.0 255.6,415.7 256.0,452.0 256.3,423.9 256.6,427.4 256.9,375.0 257.3,423.0 257.6,425.4 257.9,419.9 258.2,458.2 258.5,335.7 258.9,430.6 259.2,420.4 259.5,440.0 259.8,426.1 260.1,399.5 260.5,394.9 260.8,381.1 261.1,375.7 261.4,412.4 261.8,370.6 262.1,394.6 262.4,365.1 262.7,390.4 263.0,370.2 263.4,342.9 263.7,379.9 264.0,364.1 264.3,359.6 264.7,348.2 265.0,356.8 265.3,379.6 265.6,355.5 265.9,369.6 266.3,333.7 266.6,358.4 266.9,349.7 267.2,343.3 267.5,355.7 267.9,349.9 268.2,321.1 268.5,356.9 268.8,358.9 269.2,364.7 269.5,336.7 269.8,359.6 270.1,358.0 270.4,375.7 270.8,380.0 271.1,363.1 271.4,377.6 271.7,398.0 272.0,373.2 272.4,386.1 272.7,380.1 273.0,375.3 273.3,367.5 273.7,375.6 274.0,347.6 274.3,330.0 274.6,378.9 274.9,379.1 275.3,338.0 275.6,362.2 275.9,329.4 276.2,352.3 276.5,364.8 276.9,383.2 277.2,383.8 277.5,370.1 277.8,376.6 278.2,365.3 278.5,379.9 278.8,367.8 279.1,386.6 279.4,394.3 279.8,351.2 280.1,345.0 280.4,344.4 280.7,366.0 281.0,378.1 281.4,390.1 281.7,365.4 282.0,361.7 282.3,378.6 282.7,384.5 283.0,361.9 283.3,400.5 283.6,382.0 283.9,362.1 284.3,364.2 284.6,372.3 284.9,349.9 285.2,344.1 285.5,389.4 285.9,346.8 286.2,385.8 286.5,343.9 286.8,384.1 287.2,341.6 287.5,344.9 287.8,345.7 288.1,325.2 288.4,350.8 288.8,343.6 289.1,327.3 289.4,341.0 289.7,355.1 290.0,340.6 290.4,347.6 290.7,323.9 291.0,349.2 291.3,329.5 291.7,355.5 292.0,343.4 292.3,368.9 292.6,351.8 292.9,325.3 293.3,349.0 293.6,364.3 293.9,353.6 294.2,359.7 294.6,354.9 294.9,368.3 295.2,381.7 295.5,368.3 295.8,321.7 296.2,348.9 296.5,333.0 296.8,353.6 297.1,373.7 297.4,365.1 297.8,339.6 298.1,315.1 298.4,342.0 298.7,366.1 299.1,368.6 299.4,348.2 299.7,353.7 300.0,350.8 300.3,356.0 300.7,368.2 301.0,345.7 301.3,330.8 301.6,350.0 301.9,329.4 302.3,362.0 302.6,347.7 302.9,353.5 303.2,327.1 303.6,345.1 303.9,322.1 304.2,317.2 304.5,316.5 304.8,329.7 305.2,342.8 305.5,313.4 305.8,335.3 306.1,327.3 306.4,329.2 306.8,335.8 307.1,335.5 307.4,341.2 307.7,329.5 308.1,324.4 308.4,339.7 308.7,329.7 309.0,326.5 309.3,325.5 309.7,353.8 310.0,337.1 310.3,319.3 310.6,313.0 310.9,322.3 311.3,319.2 311.6,318.0 311.9,326.1 312.2,334.1 312.6,318.3 312.9,299.7 313.2,327.6 313.5,306.7 313.8,297.6 314.2,340.2 314.5,334.5 314.8,298.1 315.1,328.8 315.4,319.6 315.8,309.3 316.1,308.6 316.4,330.1 316.7,306.5 317.1,330.7 317.4,313.7 317.7,286.4 318.0,321.8 318.3,308.2 318.7,321.2 319.0,294.9 319.3,296.2 319.6,320.0 319.9,298.3 320.3,325.9 320.6,336.0 320.9,321.1 321.2,312.6 321.6,295.1 321.9,314.4 322.2,341.8 322.5,314.8 322.8,290.9 323.2,326.6 323.5,312.3 323.8,283.8 324.1,291.0 324.4,288.7 324.8,323.2 325.1,321.8 325.4,291.2 325.7,286.4 326.1,309.0 326.4,302.5 326.7,335.7 327.0,299.4 327.3,306.3 327.7,349.8 328.0,318.6 328.3,359.9 328.6,304.0 329.0,300.1 329.3,295.1 329.6,365.0 329.9,294.3 330.2,289.4 330.6,284.6 330.9,303.4 331.2,300.2 331.5,319.6 331.8,301.4 332.2,282.2 332.5,301.6 332.8,309.1 333.1,267.2 333.5,307.7 333.8,308.0 334.1,312.4 334.4,313.6 334.7,348.5 335.1,307.1 335.4,298.3 335.7,352.1 336.0,283.4 336.3,306.2 336.7,306.2 337.0,336.9 337.3,311.1 337.6,349.3 338.0,284.6 338.3,279.9 338.6,295.2 338.9,281.6 339.2,294.3 339.6,306.7 339.9,276.5 340.2,288.6 340.5,265.3 340.8,292.3 341.2,335.7 341.5,286.7 341.8,268.0 342.1,278.4 342.5,292.3 342.8,305.6 343.1,286.0 343.4,235.0 343.7,293.8 344.1,265.8 344.4,291.2 344.7,275.7 345.0,274.7 345.3,273.3 345.7,286.5 346.0,282.5 346.3,251.6 346.6,287.4 347.0,293.8 347.3,295.0 347.6,232.5 347.9,284.0 348.2,279.5 348.6,270.1 348.9,327.9 349.2,249.4 349.5,269.1 349.8,267.0 350.2,250.6 350.5,278.8 350.8,275.0 351.1,266.1 351.5,262.0 351.8,285.1 352.1,268.1 352.4,245.6 352.7,264.3 353.1,266.6 353.4,269.6 353.7,273.7 354.0,273.7 354.3,242.7 354.7,229.7 355.0,255.2 355.3,227.0 355.6,251.7 356.0,296.3 356.3,240.4 356.6,255.7 356.9,238.1 357.2,222.2 357.6,238.6 357.9,282.6 358.2,223.3 358.5,223.3 358.9,223.5 359.2,247.2 359.5,218.9 359.8,249.1 360.1,235.3 360.5,215.2 360.8,216.7 361.1,228.8 361.4,232.7 361.7,241.3 362.1,226.2 362.4,231.2 362.7,219.5 363.0,231.7 363.4,225.7 363.7,214.9 364.0,221.1 364.3,241.7 364.6,245.5 365.0,244.7 365.3,284.1 365.6,219.8 365.9,234.2 366.2,232.1 366.6,233.5 366.9,246.4 367.2,252.2 367.5,255.9 367.9,227.9 368.2,243.5 368.5,220.2 368.8,231.0 369.1,229.9 369.5,233.6 369.8,232.4 370.1,222.7 370.4,236.4 370.7,211.5 371.1,206.1 371.4,214.9 371.7,203.5 372.0,233.9 372.4,210.7 372.7,204.7 373.0,220.3 373.3,218.5 373.6,224.6 374.0,224.1 374.3,199.8 374.6,253.5 374.9,231.0 375.2,223.6 375.6,221.7 375.9,202.2 376.2,260.8 376.5,209.7 376.9,198.4 377.2,210.5 377.5,228.5 377.8,224.3 378.1,258.2 378.5,199.9 378.8,227.9 379.1,221.6 379.4,216.7 379.7,213.8 380.1,202.6 380.4,210.8 380.7,215.5 381.0,219.1 381.4,211.3 381.7,202.7 382.0,224.4 382.3,209.9 382.6,204.8 383.0,213.2 383.3,224.3 383.6,212.5 383.9,206.8 384.2,211.3 384.6,216.0 384.9,221.4 385.2,211.8 385.5,200.0 385.9,238.3 386.2,202.7 386.5,212.4 386.8,206.7 387.1,213.2 387.5,208.0 387.8,199.6 388.1,206.1 388.4,203.5 388.7,208.7 389.1,216.8 389.4,198.9 389.7,209.2 390.0,205.3 390.4,204.9 390.7,218.4 391.0,219.7 391.3,201.2 391.6,205.3 392.0,452.0 392.3,209.9 392.6,224.2 392.9,213.2 393.3,206.7 393.6,201.3 393.9,201.6 394.2,205.6 394.5,202.9 394.9,223.4 395.2,202.0 395.5,207.6 395.8,210.9 396.1,202.9 396.5,203.7 396.8,218.7 397.1,222.2 397.4,207.3 397.8,200.8 398.1,204.7 398.4,210.3 398.7,208.9 399.0,207.7 399.4,218.5 399.7,218.4 400.0,221.9 400.3,212.5 400.6,224.3 401.0,222.8 401.3,206.9 401.6,199.4 401.9,203.6 402.3,201.1 402.6,215.5 402.9,217.5 403.2,255.0 403.5,214.0 403.9,213.5 404.2,199.8 404.5,214.5 404.8,220.5 405.1,213.7 405.5,223.9 405.8,200.6 406.1,212.6 406.4,234.8 406.8,208.8 407.1,205.3 407.4,206.9 407.7,211.7 408.0,214.1 408.4,197.7 408.7,203.8 409.0,200.3 409.3,219.6 409.6,212.9 410.0,201.9 410.3,219.5 410.6,203.0 410.9,214.0 411.3,208.9 411.6,237.1 411.9,216.2 412.2,211.5 412.5,207.5 412.9,210.0 413.2,210.1 413.5,212.1 413.8,222.6 414.1,200.0 414.5,206.8 414.8,208.9 415.1,210.4 415.4,215.2 415.8,204.9 416.1,197.3 416.4,198.7 416.7,216.0 417.0,200.9 417.4,211.3 417.7,205.6 418.0,217.2 418.3,216.4 418.6,204.6 419.0,206.2 419.3,218.0 419.6,208.9 419.9,211.3 420.3,203.2 420.6,211.4 420.9,209.1 421.2,200.4 421.5,203.2 421.9,208.8 422.2,210.3 422.5,212.2 422.8,201.3 423.2,213.2 423.5,220.4 423.8,212.1 424.1,202.3 424.4,216.5 424.8,219.5 425.1,206.7 425.4,210.0 425.7,210.9 426.0,225.9 426.4,206.6 426.7,208.9 427.0,213.8 427.3,223.6 427.7,218.2 428.0,232.1 428.3,215.9 428.6,210.2 428.9,228.9 429.3,220.2 429.6,216.6 429.9,206.0 430.2,215.3 430.5,219.3 430.9,203.1 431.2,200.0 431.5,221.7 431.8,224.5 432.2,212.5 432.5,213.9 432.8,215.8 433.1,211.8 433.4,209.7 433.8,221.7 434.1,217.8 434.4,204.1 434.7,216.7 435.0,207.6 435.4,206.9 435.7,199.8 436.0,206.1 436.3,221.1 436.7,223.5 437.0,218.6 437.3,206.9 437.6,214.4 437.9,214.1 438.3,221.7 438.6,221.7 438.9,231.3 439.2,208.5 439.5,226.6 439.9,218.1 440.2,224.5 440.5,207.5 440.8,216.9 441.2,213.8 441.5,214.2 441.8,212.1 442.1,216.2 442.4,206.2 442.8,206.1 443.1,203.5 443.4,208.1 443.7,210.0 444.0,205.5 444.4,213.6 444.7,210.9 445.0,206.1 445.3,222.8 445.7,202.3 446.0,244.8 446.3,195.2 446.6,207.5 446.9,203.9 447.3,202.9 447.6,203.5 447.9,204.4 448.2,216.6 448.5,214.1 448.9,207.7 449.2,209.2 449.5,205.5 449.8,210.4 450.2,213.0 450.5,214.3 450.8,221.0 451.1,201.8 451.4,199.2 451.8,205.0 452.1,201.9 452.4,208.8 452.7,197.6 453.0,202.5 453.4,216.9 453.7,225.9 454.0,241.9 454.3,206.8 454.7,214.2 455.0,218.6 455.3,205.7 455.6,220.8 455.9,211.6 456.3,200.4 456.6,222.4 456.9,205.3 457.2,203.2 457.6,196.8 457.9,201.9 458.2,215.3 458.5,214.2 458.8,195.8 459.2,210.5 459.5,212.8 459.8,209.2 460.1,201.8 460.4,198.0 460.8,202.3 461.1,208.9 461.4,195.2 461.7,188.7 462.1,199.0 462.4,199.9 462.7,190.0 463.0,198.9 463.3,195.3 463.7,186.0 464.0,206.4 464.3,203.2 464.6,210.8 464.9,196.3 465.3,231.1 465.6,213.4 465.9,207.4 466.2,192.9 466.6,221.4 466.9,207.9 467.2,200.3 467.5,193.5 467.8,196.9 468.2,194.0 468.5,198.7 468.8,208.3 469.1,194.7 469.4,208.8 469.8,197.5 470.1,196.8 470.4,217.4 470.7,198.8 471.1,203.7 471.4,195.6 471.7,210.4 472.0,202.8 472.3,202.6 472.7,210.3 473.0,206.3 473.3,213.1 473.6,207.8 473.9,222.1 474.3,211.1 474.6,217.8 474.9,208.7 475.2,192.9 475.6,204.1 475.9,211.3 476.2,218.2 476.5,199.9 476.8,208.6 477.2,212.7 477.5,208.1 477.8,194.3 478.1,195.3 478.4,217.0 478.8,192.5 479.1,212.0 479.4,193.7 479.7,213.7 480.1,205.8 480.4,198.0 480.7,217.5 481.0,215.3 481.3,217.7 481.7,221.0 482.0,210.4 482.3,201.4 482.6,224.9 482.9,209.7 483.3,208.9 483.6,202.0 483.9,209.4 484.2,220.4 484.6,215.2 484.9,194.6 485.2,213.0 485.5,200.1 485.8,202.6 486.2,195.7 486.5,203.3 486.8,192.1 487.1,215.9 487.4,204.9 487.8,203.6 488.1,202.4 488.4,190.7 488.7,200.1 489.1,211.9 489.4,201.5 489.7,194.5 490.0,211.6 490.3,216.6 490.7,196.7 491.0,199.2 491.3,186.8 491.6,189.2 492.0,210.7 492.3,195.1 492.6,205.4 492.9,205.5 493.2,185.3 493.6,187.9 493.9,189.1 494.2,206.3 494.5,196.8 494.8,198.5 495.2,193.4 495.5,212.4 495.8,209.8 496.1,208.4 496.5,200.3 496.8,190.7 497.1,201.3 497.4,204.2 497.7,209.9 498.1,233.4 498.4,211.7 498.7,213.4 499.0,220.5 499.3,188.6 499.7,201.7 500.0,207.9 500.3,205.6 500.6,193.1 501.0,206.3 501.3,207.6 501.6,208.4 501.9,198.9 502.2,202.5 502.6,208.6 502.9,200.8 503.2,199.0 503.5,186.5 503.8,190.7 504.2,190.2 504.5,194.8 504.8,201.9 505.1,207.8 505.5,203.5 505.8,199.1 506.1,197.7 506.4,198.0 506.7,209.4 507.1,188.0 507.4,200.1 507.7,211.3 508.0,187.6 508.3,199.4 508.7,195.9 509.0,195.1 509.3,182.7 509.6,203.1 510.0,201.9 510.3,200.8 510.6,190.5 510.9,193.8 511.2,190.9 511.6,187.4 511.9,205.4 512.2,208.6 512.5,196.4 512.8,189.7 513.2,213.0 513.5,196.6 513.8,203.1 514.1,216.9 514.5,213.5 514.8,209.9 515.1,217.6 515.4,201.6 515.7,215.1 516.1,223.1 516.4,204.5 516.7,214.9 517.0,210.3 517.3,209.8 517.7,202.5 518.0,204.1 518.3,215.1 518.6,204.8 519.0,238.3 519.3,206.5 519.6,206.7 519.9,193.3 520.2,197.0 520.6,193.2 520.9,211.8 521.2,189.3 521.5,204.2 521.9,212.0 522.2,206.3 522.5,189.4 522.8,196.1 523.1,209.8 523.5,193.6 523.8,192.9 524.1,199.5 524.4,197.5 524.7,192.4 525.1,186.9 525.4,184.8 525.7,198.6 526.0,187.9 526.4,202.3 526.7,207.4 527.0,189.4 527.3,205.5 527.6,187.5 528.0,188.0 528.3,189.5 528.6,189.2 528.9,199.1 529.2,202.2 529.6,190.6 529.9,224.3 530.2,203.1 530.5,198.5 530.9,201.3 531.2,199.2 531.5,191.7 531.8,214.2 532.1,187.5 532.5,197.9 532.8,198.7 533.1,197.1 533.4,186.9 533.7,194.5 534.1,189.5 534.4,191.0 534.7,201.2 535.0,193.3 535.4,207.1 535.7,188.1 536.0,210.7 536.3,206.2 536.6,240.3 537.0,217.3 537.3,218.8 537.6,204.4 537.9,198.7 538.2,206.0 538.6,200.0 538.9,204.5 539.2,211.1 539.5,205.0 539.9,190.1 540.2,201.6 540.5,198.0 540.8,198.5 541.1,190.9 541.5,208.6 541.8,190.4 542.1,191.9 542.4,189.7 542.7,188.8 543.1,203.1 543.4,190.6 543.7,194.6 544.0,182.4 544.4,216.1 544.7,180.0 545.0,191.9 545.3,181.8 545.6,189.4 546.0,194.6 546.3,178.0 546.6,195.9 546.9,183.7 547.2,184.0 547.6,198.7 547.9,194.9 548.2,186.1 548.5,178.5 548.9,179.7 549.2,179.8 549.5,206.0 549.8,193.3 550.1,189.5 550.5,193.3 550.8,203.7 551.1,214.2 551.4,193.0 551.8,186.9 552.1,205.0 552.4,207.8 552.7,226.9 553.0,203.7 553.4,198.1 553.7,194.5 554.0,208.2 554.3,209.6 554.6,191.2 555.0,211.8 555.3,199.3 555.6,197.5 555.9,208.8 556.3,198.9 556.6,200.6 556.9,202.7 557.2,205.8 557.5,191.6 557.9,200.5 558.2,178.1 558.5,187.9 558.8,185.1 559.1,201.0 559.5,186.0 559.8,199.9 560.1,183.9 560.4,197.7 560.8,194.6 561.1,209.8 561.4,194.7 561.7,187.5 562.0,197.3 562.4,182.2 562.7,197.1 563.0,200.6 563.3,204.1 563.6,197.8 564.0,205.7 564.3,194.2 564.6,193.9 564.9,203.6 565.3,191.7 565.6,191.3 565.9,204.9 566.2,202.6 566.5,202.7 566.9,199.7 567.2,615.5 567.5,192.7 567.8,193.8 568.1,198.8 568.5,179.7 568.8,187.4 569.1,204.4 569.4,187.6 569.8,188.1 570.1,201.4 570.4,194.0 570.7,187.0 571.0,187.9 571.4,183.1 571.7,183.4 572.0,203.1 572.3,187.3 572.6,190.2 573.0,184.1 573.3,178.0 573.6,186.3 573.9,204.2 574.3,187.1 574.6,200.9 574.9,192.9 575.2,191.2 575.5,185.9 575.9,179.1 576.2,192.6 576.5,202.3 576.8,179.1 577.1,200.5 577.5,192.5 577.8,195.1 578.1,188.8 578.4,186.7 578.8,195.6 579.1,194.4 579.4,198.2 579.7,189.3 580.0,197.6 580.4,187.8 580.7,188.4 581.0,189.8 581.3,205.3 581.6,183.6 582.0,207.1 582.3,224.0 582.6,200.8 582.9,194.8 583.3,203.4 583.6,190.8 583.9,184.7 584.2,189.7 584.5,189.3 584.9,186.9 585.2,192.9 585.5,198.4 585.8,202.2 586.2,195.2 586.5,236.2 586.8,197.7 587.1,195.9 587.4,187.8 587.8,199.1 588.1,200.5 588.4,192.0 588.7,203.5 589.0,183.7 589.4,182.3 589.7,184.8 590.0,204.5 590.3,192.3 590.7,201.6 591.0,195.5 591.3,186.9 591.6,200.3 591.9,196.8 592.3,202.4 592.6,194.2 592.9,196.8 593.2,187.9 593.5,194.8 593.9,193.6 594.2,205.9 594.5,204.4 594.8,201.3 595.2,200.5 595.5,189.8 595.8,203.7 596.1,184.2 596.4,189.0 596.8,206.4 597.1,196.9 597.4,204.2 597.7,198.5 598.0,196.4 598.4,203.8 598.7,193.5 599.0,193.7 599.3,183.6 599.7,197.4 600.0,201.3 600.3,193.4 600.6,191.7 600.9,182.7 601.3,184.3 601.6,180.8 601.9,186.7 602.2,179.4 602.5,204.4 602.9,200.4 603.2,197.1 603.5,188.7 603.8,184.1 604.2,198.6 604.5,198.8 604.8,189.2 605.1,186.1 605.4,191.1 605.8,194.1 606.1,184.6 606.4,203.0 606.7,190.4 607.0,205.9 607.4,183.9 607.7,196.5 608.0,194.2 608.3,183.5 608.7,186.3 609.0,181.4 609.3,177.9 609.6,191.2 609.9,202.9 610.3,188.0 610.6,199.2 610.9,186.4 611.2,207.1 611.5,204.6 611.9,198.6 612.2,208.9 612.5,213.1 612.8,191.5 613.2,202.9 613.5,204.2 613.8,196.0 614.1,183.5 614.4,206.4 614.8,203.0 615.1,196.3 615.4,185.3 615.7,203.0 616.1,193.1 616.4,202.3 616.7,188.3 617.0,203.6 617.3,201.2 617.7,204.5 618.0,183.7 618.3,185.3 618.6,197.1 618.9,188.9 619.3,185.0 619.6,201.9 619.9,189.1 620.2,208.9 620.6,201.8 620.9,187.7 621.2,186.7 621.5,202.8 621.8,193.8 622.2,198.2 622.5,203.9 622.8,184.1 623.1,203.9 623.4,194.4 623.8,203.9 624.1,192.7 624.4,182.6 624.7,194.2 625.1,199.8 625.4,191.4 625.7,188.8 626.0,182.7 626.3,198.0 626.7,192.2 627.0,191.5 627.3,193.6 627.6,188.7 627.9,188.3 628.3,190.4 628.6,181.7 628.9,188.5 629.2,191.9 629.6,187.6 629.9,201.0 630.2,196.3 630.5,201.5 630.8,190.9 631.2,204.6 631.5,198.0 631.8,193.0 632.1,186.1 632.4,202.4 632.8,199.9 633.1,183.3 633.4,196.6 633.7,217.7 634.1,200.4 634.4,214.4 634.7,203.4 635.0,183.7 635.3,184.1 635.7,203.1 636.0,182.7 636.3,195.6 636.6,197.6 636.9,184.2 637.3,197.5 637.6,181.4 637.9,188.8 638.2,197.5 638.6,188.7 638.9,195.0 639.2,201.8 639.5,182.2 639.8,187.3 640.2,177.5 640.5,184.0 640.8,180.3 641.1,177.0 641.4,214.5 641.8,195.4 642.1,188.1 642.4,179.6 642.7,195.1 643.1,193.1 643.4,196.0 643.7,184.2 644.0,194.3 644.3,186.1 644.7,188.8 645.0,190.2 645.3,192.4 645.6,191.1 645.9,205.4 646.3,204.1 646.6,190.8 646.9,197.7 647.2,190.4 647.6,192.1 647.9,195.3 648.2,186.6 648.5,207.7 648.8,184.2 649.2,204.0 649.5,203.4 649.8,202.7 650.1,192.1 650.5,184.3 650.8,186.4 651.1,199.6 651.4,203.4 651.7,204.6 652.1,199.3 652.4,200.7 652.7,194.1 653.0,185.8 653.3,205.8 653.7,188.7 654.0,191.7 654.3,181.6 654.6,215.0 655.0,192.7 655.3,186.0 655.6,190.1 655.9,185.1 656.2,193.2 656.6,193.6 656.9,197.1 657.2,178.8 657.5,190.8 657.8,191.9 658.2,176.3 658.5,178.6 658.8,194.2 659.1,188.3 659.5,185.2 659.8,178.0 660.1,193.9 660.4,194.7 660.7,183.9 661.1,192.8 661.4,189.3 661.7,191.0 662.0,192.5 662.3,179.8 662.7,188.6 663.0,183.9 663.3,206.2 663.6,193.6 664.0,185.6 664.3,192.2 664.6,197.5 664.9,184.0 665.2,198.5 665.6,205.9 665.9,202.2 666.2,196.7 666.5,186.9 666.8,204.9 667.2,202.7 667.5,186.8 667.8,200.5 668.1,181.7 668.5,188.0 668.8,198.3 669.1,184.4 669.4,186.7 669.7,200.8 670.1,199.6 670.4,180.6 670.7,181.7 671.0,184.9 671.3,191.9 671.7,205.8 672.0,187.9 672.3,190.4 672.6,179.7 673.0,195.1 673.3,179.9 673.6,195.8 673.9,190.5 674.2,200.5 674.6,190.8 674.9,185.0 675.2,181.8 675.5,190.4 675.8,201.8 676.2,188.6 676.5,196.8 676.8,201.6 677.1,185.9 677.5,197.0 677.8,204.6 678.1,193.8 678.4,223.9 678.7,201.0 679.1,190.1 679.4,202.6 679.7,186.5 680.0,206.9 680.4,199.3 680.7,195.6 681.0,197.2 681.3,184.6 681.6,184.2 682.0,204.3 682.3,180.2 682.6,195.0 682.9,193.4 683.2,194.8 683.6,192.5 683.9,184.6 684.2,199.3 684.5,189.4 684.9,184.9 685.2,183.3 685.5,192.1 685.8,204.3 686.1,198.8 686.5,194.0 686.8,195.2 687.1,181.8 687.4,198.6 687.7,203.3 688.1,186.5 688.4,181.6 688.7,197.5 689.0,185.6 689.4,204.6 689.7,190.9 690.0,197.0 690.3,193.8 690.6,202.7 691.0,191.1 691.3,183.4 691.6,189.3 691.9,194.6 692.2,184.2 692.6,191.7 692.9,177.1 693.2,179.6 693.5,179.9 693.9,203.2 694.2,186.6 694.5,191.8 694.8,204.6 695.1,192.5 695.5,204.7 695.8,182.0 696.1,191.6 696.4,188.0 696.7,201.4 697.1,196.5 697.4,197.5 697.7,185.3 698.0,180.3 698.4,191.1 698.7,193.8 699.0,196.0 699.3,204.2 699.6,192.3 700.0,194.4 700.3,181.0 700.6,197.9 700.9,193.5 701.2,182.9 701.6,193.6 701.9,183.0 702.2,180.9 702.5,189.1 702.9,188.5 703.2,191.9 703.5,181.6 703.8,190.0 704.1,197.6 704.5,201.4 704.8,191.6 705.1,199.8 705.4,187.7 705.7,224.3 706.1,199.9 706.4,199.1 706.7,198.8 707.0,196.5 707.4,207.0 707.7,206.1 708.0,195.3 708.3,187.7 708.6,191.0 709.0,181.1 709.3,204.0 709.6,191.3 709.9,205.2 710.2,190.9 710.6,202.9 710.9,192.3 711.2,181.7 711.5,180.8 711.9,183.9 712.2,181.3 712.5,180.3"/>
<polyline fill="none" stroke="#0072bd" stroke-width="2" stroke-linejoin="round" marker-start="url(#ma)" marker-mid="url(#ma)" marker-end="url(#ma)" points="69.8,615.0 70.1,615.0 70.5,615.2 70.8,615.3 71.1,615.1 71.4,615.4 71.8,614.7 72.1,614.7 72.4,614.9 72.7,614.9 73.0,615.7 73.4,615.5 73.7,616.2 74.0,615.8 74.3,614.6 74.6,614.9 75.0,615.4 75.3,615.6 75.6,614.7 75.9,614.1 76.3,614.8 76.6,615.6 76.9,616.0 77.2,616.6 77.5,616.1 77.9,616.2 78.2,616.2 78.5,617.0 78.8,616.5 79.1,617.8 79.5,618.5 79.8,619.1 80.1,619.2 80.4,619.9 80.8,620.8 81.1,621.0 81.4,621.8 81.7,622.7 82.0,624.1 82.4,625.5 82.7,624.7 83.0,624.0 83.3,622.9 83.6,621.7 84.0,621.4 84.3,621.3 84.6,620.6 84.9,620.1 85.3,620.3 85.6,620.8 85.9,621.1 86.2,620.1 86.5,620.2 86.9,620.3 87.2,619.6 87.5,620.0 87.8,618.3 88.1,617.8 88.5,616.4 88.8,616.5 89.1,616.7 89.4,618.1 89.8,618.2 90.1,617.8 90.4,616.8 90.7,616.7 91.0,616.0 91.4,616.1 91.7,615.9 92.0,616.8 92.3,617.4 92.6,618.1 93.0,617.9 93.3,617.3 93.6,618.5 93.9,618.8 94.3,620.2 94.6,619.9 94.9,620.9 95.2,620.2 95.5,620.4 95.9,621.0 96.2,621.0 96.5,621.1 96.8,620.2 97.1,619.8 97.5,619.6 97.8,618.1 98.1,617.6 98.4,615.4 98.8,615.7 99.1,614.1 99.4,613.7 99.7,612.0 100.0,611.3 100.4,611.9 100.7,610.9 101.0,610.5 101.3,610.0 101.7,610.1 102.0,609.9 102.3,610.3 102.6,610.1 102.9,610.5 103.3,610.2 103.6,610.8 103.9,611.4 104.2,611.8 104.5,611.7 104.9,612.6 105.2,612.0 105.5,613.2 105.8,612.9 106.2,613.1 106.5,613.6 106.8,614.7 107.1,615.2 107.4,615.6 107.8,614.9 108.1,615.3 108.4,615.0 108.7,615.3 109.0,616.2 109.4,616.5 109.7,617.5 110.0,617.7 110.3,617.4 110.7,617.4 111.0,616.9 111.3,619.0 111.6,621.2 111.9,622.2 112.3,622.1 112.6,622.1 112.9,622.4 113.2,623.7 113.5,624.4 113.9,624.5 114.2,624.9 114.5,624.3 114.8,625.3 115.2,625.7 115.5,626.4 115.8,626.7 116.1,626.7 116.4,626.6 116.8,627.7 117.1,628.4 117.4,628.8 117.7,629.4 118.0,629.9 118.4,630.9 118.7,631.5 119.0,632.5 119.3,632.9 119.7,633.0 120.0,633.3 120.3,634.8 120.6,634.1 120.9,634.8 121.3,634.0 121.6,634.3 121.9,633.8 122.2,633.7 122.5,634.0 122.9,633.6 123.2,634.8 123.5,634.7 123.8,635.4 124.2,635.0 124.5,636.1 124.8,636.2 125.1,636.4 125.4,637.2 125.8,637.6 126.1,638.3 126.4,639.1 126.7,639.7 127.0,639.4 127.4,638.6 127.7,638.6 128.0,639.3 128.3,639.6 128.7,638.6 129.0,636.7 129.3,634.9 129.6,634.0 129.9,634.8 130.3,636.7 130.6,638.8 130.9,640.1 131.2,642.2 131.5,644.5 131.9,645.6 132.2,647.1 132.5,647.4 132.8,649.8 133.2,651.6 133.5,652.9 133.8,653.8 134.1,655.6 134.4,657.3 134.8,659.6 135.1,660.0 135.4,656.6 135.7,652.9 136.1,649.6 136.4,646.0 136.7,642.0 137.0,639.0 137.3,635.4 137.7,630.1 138.0,625.9 138.3,622.7 138.6,620.6 138.9,617.6 139.3,615.2 139.6,612.4 139.9,610.8 140.2,610.2 140.6,609.0 140.9,608.1 141.2,607.5 141.5,607.5 141.8,606.1 142.2,604.1 142.5,603.2 142.8,601.9 143.1,601.8 143.4,602.4 143.8,601.2 144.1,600.8 144.4,598.9 144.7,598.7 145.1,597.8 145.4,597.6 145.7,597.1 146.0,596.3 146.3,594.1 146.7,591.5 147.0,588.4 147.3,586.4 147.6,585.0 147.9,582.7 148.3,579.2 148.6,575.2 148.9,573.3 149.2,571.4 149.6,570.1 149.9,570.9 150.2,572.0 150.5,573.0 150.8,573.5 151.2,575.0 151.5,575.9 151.8,577.1 152.1,578.1 152.4,576.7 152.8,573.0 153.1,569.0 153.4,565.6 153.7,561.7 154.1,558.5 154.4,555.3 154.7,553.0 155.0,550.1 155.3,546.1 155.7,542.1 156.0,538.5 156.3,534.4 156.6,530.8 156.9,528.7 157.3,533.4 157.6,539.5 157.9,544.8 158.2,550.8 158.6,555.9 158.9,561.6 159.2,566.9 159.5,571.8 159.8,576.3 160.2,581.4 160.5,586.5 160.8,591.1 161.1,593.3 161.4,588.6 161.8,584.9 162.1,579.6 162.4,575.1 162.7,570.1 163.1,563.5 163.4,555.2 163.7,547.0 164.0,539.1 164.3,530.9 164.7,522.9 165.0,513.9 165.3,505.2 165.6,495.4 165.9,486.5 166.3,477.9 166.6,473.0 166.9,466.1 167.2,459.7 167.6,452.1 167.9,445.6 168.2,442.5 168.5,438.7 168.8,435.7 169.2,431.8 169.5,426.2 169.8,422.6 170.1,418.9 170.5,419.8 170.8,419.7 171.1,419.8 171.4,419.0 171.7,417.6 172.1,415.5 172.4,414.1 172.7,415.9 173.0,417.6 173.3,420.4 173.7,424.0 174.0,428.6 174.3,430.0 174.6,431.6 175.0,432.6 175.3,434.9 175.6,436.0 175.9,437.8 176.2,439.8 176.6,440.0 176.9,442.1 177.2,444.0 177.5,444.6 177.8,444.1 178.2,446.5 178.5,447.4 178.8,446.7 179.1,447.1 179.5,448.0 179.8,450.3 180.1,448.6 180.4,447.7 180.7,446.3 181.1,446.7 181.4,449.0 181.7,450.3 182.0,449.3 182.3,449.1 182.7,450.2 183.0,451.6 183.3,454.3 183.6,455.6 184.0,459.4 184.3,461.6 184.6,461.6 184.9,459.8 185.2,456.2 185.6,457.1 185.9,457.0 186.2,459.9 186.5,461.9 186.8,463.3 187.2,462.3 187.5,460.3 187.8,459.4 188.1,456.0 188.5,454.1 188.8,452.0 189.1,453.7 189.4,453.2 189.7,454.0 190.1,451.0 190.4,447.5 190.7,443.7 191.0,442.5 191.3,440.4 191.7,439.5 192.0,437.8 192.3,436.6 192.6,432.9 193.0,431.6 193.3,430.0 193.6,428.6 193.9,427.9 194.2,426.0 194.6,425.1 194.9,423.3 195.2,421.6 195.5,420.3 195.8,418.5 196.2,417.4 196.5,415.6 196.8,414.2 197.1,412.5 197.5,411.1 197.8,411.6 198.1,411.4 198.4,411.7 198.7,410.5 199.1,411.3 199.4,409.9 199.7,408.0 200.0,408.0 200.4,408.2 200.7,408.2 201.0,407.7 201.3,406.6 201.6,403.6 202.0,404.0 202.3,404.4 202.6,405.4 202.9,403.2 203.2,402.5 203.6,403.8 203.9,402.5 204.2,401.7 204.5,398.1 204.9,396.4 205.2,395.8 205.5,394.3 205.8,394.9 206.1,393.8 206.5,392.5 206.8,391.0 207.1,390.4 207.4,390.9 207.7,390.3 208.1,387.6 208.4,388.1 208.7,388.2 209.0,389.2 209.4,390.0 209.7,389.2 210.0,388.7 210.3,390.3 210.6,392.2 211.0,394.2 211.3,394.0 211.6,394.6 211.9,395.3 212.2,396.2 212.6,396.9 212.9,397.8 213.2,397.2 213.5,397.8 213.9,397.7 214.2,399.5 214.5,401.1 214.8,401.9 215.1,403.1 215.5,404.3 215.8,405.6 216.1,407.9 216.4,408.5 216.7,407.6 217.1,407.6 217.4,408.0 217.7,407.9 218.0,406.4 218.4,404.1 218.7,401.3 219.0,399.7 219.3,398.2 219.6,398.1 220.0,396.6 220.3,395.5 220.6,396.1 220.9,395.6 221.2,394.5 221.6,391.5 221.9,391.5 222.2,390.0 222.5,391.3 222.9,390.4 223.2,391.1 223.5,390.7 223.8,391.0 224.1,389.3 224.5,388.1 224.8,386.9 225.1,386.9 225.4,387.2 225.7,386.3 226.1,384.4 226.4,383.0 226.7,382.8 227.0,383.4 227.4,381.3 227.7,379.8 228.0,378.6 228.3,379.9 228.6,378.5 229.0,376.8 229.3,375.1 229.6,373.7 229.9,374.9 230.2,374.5 230.6,373.2 230.9,374.0 231.2,374.5 231.5,373.0 231.9,371.9 232.2,370.3 232.5,372.8 232.8,370.7 233.1,370.3 233.5,370.4 233.8,371.9 234.1,374.7 234.4,374.2 234.8,375.8 235.1,379.3 235.4,380.3 235.7,381.5 236.0,380.9 236.4,384.5 236.7,385.6 237.0,386.7 237.3,386.7 237.6,386.9 238.0,386.1 238.3,386.2 238.6,386.5 238.9,386.2 239.3,388.4 239.6,389.7 239.9,390.7 240.2,390.9 240.5,390.5 240.9,391.2 241.2,391.8 241.5,393.0 241.8,395.9 242.1,399.1 242.5,400.7 242.8,402.5 243.1,403.3 243.4,403.5 243.8,404.9 244.1,404.6 244.4,407.9 244.7,408.9 245.0,411.0 245.4,411.4 245.7,412.2 246.0,412.4 246.3,415.3 246.6,415.5 247.0,417.0 247.3,418.8 247.6,420.7 247.9,422.4 248.3,423.2 248.6,424.0 248.9,425.3 249.2,425.2 249.5,425.5 249.9,425.4 250.2,425.6 250.5,429.2 250.8,431.3 251.1,431.7 251.5,431.4 251.8,431.0 252.1,432.2 252.4,431.0 252.8,431.6 253.1,432.5 253.4,431.7 253.7,431.4 254.0,431.4 254.4,430.5 254.7,431.2 255.0,429.2 255.3,432.2 255.6,432.9 256.0,436.0 256.3,437.0 256.6,437.5 256.9,438.2 257.3,439.4 257.6,435.9 257.9,432.9 258.2,430.2 258.5,428.3 258.9,424.5 259.2,421.0 259.5,416.4 259.8,412.3 260.1,408.0 260.5,403.5 260.8,397.5 261.1,390.6 261.4,388.8 261.8,384.8 262.1,382.8 262.4,377.6 262.7,375.0 263.0,370.1 263.4,366.5 263.7,362.9 264.0,362.4 264.3,360.5 264.7,358.3 265.0,357.4 265.3,357.7 265.6,358.6 265.9,355.3 266.3,354.9 266.6,354.5 266.9,355.6 267.2,355.1 267.5,356.1 267.9,355.4 268.2,356.2 268.5,357.4 268.8,358.6 269.2,360.0 269.5,361.2 269.8,363.5 270.1,364.7 270.4,365.4 270.8,367.3 271.1,368.9 271.4,368.1 271.7,368.2 272.0,367.7 272.4,369.0 272.7,372.4 273.0,373.8 273.3,373.5 273.7,370.6 274.0,367.8 274.3,366.3 274.6,365.9 274.9,364.0 275.3,364.8 275.6,363.2 275.9,366.5 276.2,367.6 276.5,370.2 276.9,369.2 277.2,369.5 277.5,371.5 277.8,374.9 278.2,377.7 278.5,377.6 278.8,378.5 279.1,378.0 279.4,379.0 279.8,379.9 280.1,381.5 280.4,381.4 280.7,382.0 281.0,379.9 281.4,379.9 281.7,378.5 282.0,378.1 282.3,378.2 282.7,377.1 283.0,375.9 283.3,374.0 283.6,373.2 283.9,372.7 284.3,369.1 284.6,367.2 284.9,363.9 285.2,361.6 285.5,359.4 285.9,357.2 286.2,356.8 286.5,357.2 286.8,356.1 287.2,355.2 287.5,352.2 287.8,349.9 288.1,347.4 288.4,346.8 288.8,347.1 289.1,347.4 289.4,346.1 289.7,345.6 290.0,344.5 290.4,344.5 290.7,345.1 291.0,346.4 291.3,348.3 291.7,351.1 292.0,352.1 292.3,352.9 292.6,351.6 292.9,355.1 293.3,356.4 293.6,357.9 293.9,356.8 294.2,356.7 294.6,357.3 294.9,358.4 295.2,360.3 295.5,361.3 295.8,361.3 296.2,361.8 296.5,359.7 296.8,359.5 297.1,358.5 297.4,359.0 297.8,358.9 298.1,358.1 298.4,358.9 298.7,358.6 299.1,358.8 299.4,354.4 299.7,353.4 300.0,349.3 300.3,347.7 300.7,346.4 301.0,346.7 301.3,345.8 301.6,345.9 301.9,343.7 302.3,343.4 302.6,340.9 302.9,340.4 303.2,337.7 303.6,337.6 303.9,335.5 304.2,336.6 304.5,332.0 304.8,329.1 305.2,326.6 305.5,326.1 305.8,326.6 306.1,327.0 306.4,326.0 306.8,326.8 307.1,327.2 307.4,327.7 307.7,329.1 308.1,329.8 308.4,331.0 308.7,328.7 309.0,327.7 309.3,326.5 309.7,326.3 310.0,327.0 310.3,328.1 310.6,330.2 310.9,331.3 311.3,330.5 311.6,328.9 311.9,328.5 312.2,328.3 312.6,329.4 312.9,330.2 313.2,328.9 313.5,326.4 313.8,324.4 314.2,323.1 314.5,322.7 314.8,321.3 315.1,321.3 315.4,319.1 315.8,316.0 316.1,313.7 316.4,314.3 316.7,312.5 317.1,313.3 317.4,313.9 317.7,316.6 318.0,315.7 318.3,317.4 318.7,316.2 319.0,316.9 319.3,316.2 319.6,316.8 319.9,318.2 320.3,317.7 320.6,317.9 320.9,316.7 321.2,314.7 321.6,312.9 321.9,312.9 322.2,313.1 322.5,312.5 322.8,311.4 323.2,309.5 323.5,310.7 323.8,307.4 324.1,306.2 324.4,306.0 324.8,305.8 325.1,305.0 325.4,306.9 325.7,307.6 326.1,307.8 326.4,307.0 326.7,308.7 327.0,310.9 327.3,310.8 327.7,310.9 328.0,311.9 328.3,311.3 328.6,309.6 329.0,309.6 329.3,309.9 329.6,309.0 329.9,304.9 330.2,302.8 330.6,301.8 330.9,302.2 331.2,301.4 331.5,300.9 331.8,299.5 332.2,297.9 332.5,297.3 332.8,296.7 333.1,296.0 333.5,298.0 333.8,299.1 334.1,298.4 334.4,296.8 334.7,295.8 335.1,295.7 335.4,295.4 335.7,295.4 336.0,296.9 336.3,296.6 336.7,296.7 337.0,294.1 337.3,293.3 337.6,293.4 338.0,292.5 338.3,291.8 338.6,291.1 338.9,291.9 339.2,291.0 339.6,289.7 339.9,287.3 340.2,286.3 340.5,286.7 340.8,289.1 341.2,289.7 341.5,289.7 341.8,288.7 342.1,287.9 342.5,286.1 342.8,287.3 343.1,287.5 343.4,288.8 343.7,287.3 344.1,287.0 344.4,286.3 344.7,285.0 345.0,286.6 345.3,285.7 345.7,285.4 346.0,284.8 346.3,284.9 346.6,283.8 347.0,281.8 347.3,277.9 347.6,276.7 347.9,273.3 348.2,274.3 348.6,273.2 348.9,273.3 349.2,270.9 349.5,270.3 349.8,269.1 350.2,269.7 350.5,269.5 350.8,270.3 351.1,270.2 351.5,270.4 351.8,267.1 352.1,266.2 352.4,264.2 352.7,263.4 353.1,260.7 353.4,259.6 353.7,257.9 354.0,255.7 354.3,253.3 354.7,250.3 355.0,248.9 355.3,245.9 355.6,244.4 356.0,243.6 356.3,241.7 356.6,239.4 356.9,237.8 357.2,236.6 357.6,238.3 357.9,235.8 358.2,237.8 358.5,236.2 358.9,236.7 359.2,234.3 359.5,232.8 359.8,231.3 360.1,229.9 360.5,228.7 360.8,227.7 361.1,227.5 361.4,225.9 361.7,223.6 362.1,221.7 362.4,222.9 362.7,224.4 363.0,225.6 363.4,226.2 363.7,225.2 364.0,226.4 364.3,227.7 364.6,228.8 365.0,229.3 365.3,231.6 365.6,232.4 365.9,234.1 366.2,234.4 366.6,236.8 366.9,236.4 367.2,238.0 367.5,238.3 367.9,236.4 368.2,235.5 368.5,235.4 368.8,233.4 369.1,230.7 369.5,228.1 369.8,226.5 370.1,224.5 370.4,223.3 370.7,222.5 371.1,219.6 371.4,217.9 371.7,218.2 372.0,217.9 372.4,217.7 372.7,217.8 373.0,217.3 373.3,216.4 373.6,214.6 374.0,214.0 374.3,214.3 374.6,213.6 374.9,214.8 375.2,213.7 375.6,215.3 375.9,215.2 376.2,215.8 376.5,214.1 376.9,214.5 377.2,214.3 377.5,214.5 377.8,213.7 378.1,214.4 378.5,215.0 378.8,214.7 379.1,214.5 379.4,212.6 379.7,212.5 380.1,212.1 380.4,212.8 380.7,210.9 381.0,210.9 381.4,211.1 381.7,213.4 382.0,213.0 382.3,211.7 382.6,210.6 383.0,211.3 383.3,211.9 383.6,211.2 383.9,210.7 384.2,210.0 384.6,210.8 384.9,208.8 385.2,208.7 385.5,209.2 385.9,210.3 386.2,211.3 386.5,211.3 386.8,211.7 387.1,210.7 387.5,210.6 387.8,209.7 388.1,209.4 388.4,209.2 388.7,209.4 389.1,209.6 389.4,208.7 389.7,208.6 390.0,209.6 390.4,209.2 390.7,209.3 391.0,208.5 391.3,210.1 391.6,221.2 392.0,233.4 392.3,234.8 392.6,234.8 392.9,235.0 393.3,234.7 393.6,235.2 393.9,235.7 394.2,236.7 394.5,235.5 394.9,236.0 395.2,229.9 395.5,221.0 395.8,211.6 396.1,210.9 396.5,209.9 396.8,209.1 397.1,209.3 397.4,208.0 397.8,208.7 398.1,209.1 398.4,210.2 398.7,209.1 399.0,209.4 399.4,210.2 399.7,211.4 400.0,210.6 400.3,210.4 400.6,212.6 401.0,212.4 401.3,212.9 401.6,211.8 401.9,212.3 402.3,212.6 402.6,213.1 402.9,213.1 403.2,213.5 403.5,212.2 403.9,211.9 404.2,211.9 404.5,211.4 404.8,210.7 405.1,211.5 405.5,211.3 405.8,211.0 406.1,211.7 406.4,211.5 406.8,212.1 407.1,210.5 407.4,211.6 407.7,211.9 408.0,210.9 408.4,210.6 408.7,212.2 409.0,211.6 409.3,212.0 409.6,210.6 410.0,209.6 410.3,208.1 410.6,208.5 410.9,209.5 411.3,211.2 411.6,210.0 411.9,211.2 412.2,211.0 412.5,210.2 412.9,210.7 413.2,211.2 413.5,211.0 413.8,210.6 414.1,211.3 414.5,211.8 414.8,211.4 415.1,209.6 415.4,208.7 415.8,208.2 416.1,207.8 416.4,207.6 416.7,207.6 417.0,207.6 417.4,209.4 417.7,209.1 418.0,210.1 418.3,209.9 418.6,211.1 419.0,211.5 419.3,211.9 419.6,209.8 419.9,208.2 420.3,207.9 420.6,208.0 420.9,211.5 421.2,211.5 421.5,212.9 421.9,212.1 422.2,214.6 422.5,212.7 422.8,213.1 423.2,213.0 423.5,215.0 423.8,214.9 424.1,214.3 424.4,215.3 424.8,215.5 425.1,216.2 425.4,217.1 425.7,218.0 426.0,217.2 426.4,216.4 426.7,216.1 427.0,217.9 427.3,219.7 427.7,220.2 428.0,218.9 428.3,217.7 428.6,217.1 428.9,217.1 429.3,216.2 429.6,217.3 429.9,217.4 430.2,216.7 430.5,213.8 430.9,212.3 431.2,212.4 431.5,212.6 431.8,213.0 432.2,212.6 432.5,211.4 432.8,210.6 433.1,211.1 433.4,211.1 433.8,213.6 434.1,213.2 434.4,212.8 434.7,212.1 435.0,213.2 435.4,213.1 435.7,211.9 436.0,212.9 436.3,216.1 436.7,217.7 437.0,219.4 437.3,220.3 437.6,220.8 437.9,220.2 438.3,220.1 438.6,220.9 438.9,220.8 439.2,220.8 439.5,220.2 439.9,219.4 440.2,216.8 440.5,214.9 440.8,214.8 441.2,215.2 441.5,216.2 441.8,215.3 442.1,215.0 442.4,213.6 442.8,213.5 443.1,212.4 443.4,210.9 443.7,208.7 444.0,208.6 444.4,209.0 444.7,209.8 445.0,209.7 445.3,210.0 445.7,208.8 446.0,208.8 446.3,208.8 446.6,208.1 446.9,208.1 447.3,208.3 447.6,209.9 447.9,209.8 448.2,210.0 448.5,208.8 448.9,207.9 449.2,207.0 449.5,207.3 449.8,208.7 450.2,207.9 450.5,210.0 450.8,210.2 451.1,210.8 451.4,209.8 451.8,210.1 452.1,210.4 452.4,211.0 452.7,211.0 453.0,211.4 453.4,212.2 453.7,213.1 454.0,212.3 454.3,210.4 454.7,209.1 455.0,209.3 455.3,209.1 455.6,209.3 455.9,209.1 456.3,210.2 456.6,209.3 456.9,208.8 457.2,207.6 457.6,207.4 457.9,207.1 458.2,206.0 458.5,206.5 458.8,206.8 459.2,207.0 459.5,206.0 459.8,205.2 460.1,203.8 460.4,201.9 460.8,202.3 461.1,201.9 461.4,200.8 461.7,198.9 462.1,198.6 462.4,198.0 462.7,197.8 463.0,198.3 463.3,198.7 463.7,199.5 464.0,201.0 464.3,203.4 464.6,203.1 464.9,204.1 465.3,204.8 465.6,204.1 465.9,202.6 466.2,203.4 466.6,205.0 466.9,207.0 467.2,207.1 467.5,205.7 467.8,205.0 468.2,204.5 468.5,205.0 468.8,204.4 469.1,205.4 469.4,206.7 469.8,207.0 470.1,207.0 470.4,206.4 470.7,205.2 471.1,205.1 471.4,207.2 471.7,208.1 472.0,207.7 472.3,208.7 472.7,207.6 473.0,208.1 473.3,207.9 473.6,209.1 473.9,208.9 474.3,208.3 474.6,207.9 474.9,205.9 475.2,205.7 475.6,206.3 475.9,206.9 476.2,205.6 476.5,206.2 476.8,207.1 477.2,206.3 477.5,206.2 477.8,207.1 478.1,206.9 478.4,205.4 478.8,204.7 479.1,204.9 479.4,205.3 479.7,206.9 480.1,205.8 480.4,206.7 480.7,205.1 481.0,207.7 481.3,207.2 481.7,208.9 482.0,208.8 482.3,208.2 482.6,206.5 482.9,206.0 483.3,205.5 483.6,207.3 483.9,208.0 484.2,208.7 484.6,207.2 484.9,206.2 485.2,205.7 485.5,206.3 485.8,205.6 486.2,205.9 486.5,205.3 486.8,204.0 487.1,203.5 487.4,202.9 487.8,203.6 488.1,203.4 488.4,202.7 488.7,201.4 489.1,201.9 489.4,201.6 489.7,201.4 490.0,199.5 490.3,199.7 490.7,199.6 491.0,200.0 491.3,200.5 491.6,199.2 492.0,198.2 492.3,197.5 492.6,198.9 492.9,198.6 493.2,198.5 493.6,198.3 493.9,199.3 494.2,199.7 494.5,199.4 494.8,199.5 495.2,198.8 495.5,200.6 495.8,201.9 496.1,202.3 496.5,201.6 496.8,201.2 497.1,200.2 497.4,200.8 497.7,200.4 498.1,199.7 498.4,199.9 498.7,200.3 499.0,201.8 499.3,201.2 499.7,200.8 500.0,199.9 500.3,200.4 500.6,199.7 501.0,199.7 501.3,198.6 501.6,199.6 501.9,198.5 502.2,198.3 502.6,196.7 502.9,196.8 503.2,196.9 503.5,197.8 503.8,199.7 504.2,199.1 504.5,199.6 504.8,199.2 505.1,200.1 505.5,200.0 505.8,200.1 506.1,199.9 506.4,200.6 506.7,200.7 507.1,200.8 507.4,199.2 507.7,198.7 508.0,197.7 508.3,196.9 508.7,196.4 509.0,196.8 509.3,196.2 509.6,194.7 510.0,195.8 510.3,197.2 510.6,196.8 510.9,196.2 511.2,196.3 511.6,198.7 511.9,200.1 512.2,200.2 512.5,201.5 512.8,201.7 513.2,202.2 513.5,204.7 513.8,205.7 514.1,207.4 514.5,207.8 514.8,210.8 515.1,211.2 515.4,210.5 515.7,209.5 516.1,210.5 516.4,209.2 516.7,209.5 517.0,209.0 517.3,209.3 517.7,207.9 518.0,207.6 518.3,205.9 518.6,206.9 519.0,204.8 519.3,204.9 519.6,202.0 519.9,202.9 520.2,201.6 520.6,202.4 520.9,201.1 521.2,200.3 521.5,199.0 521.9,199.8 522.2,200.7 522.5,201.1 522.8,201.5 523.1,201.6 523.5,200.5 523.8,200.6 524.1,201.5 524.4,202.3 524.7,201.0 525.1,199.1 525.4,197.9 525.7,197.5 526.0,196.9 526.4,197.3 526.7,196.8 527.0,197.6 527.3,198.7 527.6,197.9 528.0,197.8 528.3,196.5 528.6,197.2 528.9,196.3 529.2,196.4 529.6,197.7 529.9,197.5 530.2,194.9 530.5,193.1 530.9,193.4 531.2,193.9 531.5,191.2 531.8,191.0 532.1,190.6 532.5,191.4 532.8,189.8 533.1,188.8 533.4,188.1 533.7,190.1 534.1,193.4 534.4,193.8 534.7,194.8 535.0,195.8 535.4,199.0 535.7,199.8 536.0,198.9 536.3,201.9 536.6,204.7 537.0,205.7 537.3,206.2 537.6,204.5 537.9,203.8 538.2,202.3 538.6,200.8 538.9,200.5 539.2,200.4 539.5,200.7 539.9,201.0 540.2,199.7 540.5,198.0 540.8,198.4 541.1,196.8 541.5,196.3 541.8,196.2 542.1,195.3 542.4,193.7 542.7,192.5 543.1,192.0 543.4,191.6 543.7,190.1 544.0,187.7 544.4,188.5 544.7,189.9 545.0,191.8 545.3,191.0 545.6,190.8 546.0,190.4 546.3,191.5 546.6,192.2 546.9,192.7 547.2,192.3 547.6,191.1 547.9,190.9 548.2,189.6 548.5,190.4 548.9,191.0 549.2,192.6 549.5,192.9 549.8,192.8 550.1,192.4 550.5,191.0 550.8,192.4 551.1,193.0 551.4,193.8 551.8,194.5 552.1,195.6 552.4,196.7 552.7,198.0 553.0,200.5 553.4,200.1 553.7,200.5 554.0,199.4 554.3,200.6 554.6,200.6 555.0,201.1 555.3,199.6 555.6,199.2 555.9,198.3 556.3,197.0 556.6,194.8 556.9,193.8 557.2,192.9 557.5,192.1 557.9,190.8 558.2,191.4 558.5,191.2 558.8,190.3 559.1,190.3 559.5,190.2 559.8,191.5 560.1,192.5 560.4,192.7 560.8,194.0 561.1,196.6 561.4,195.2 561.7,195.4 562.0,193.7 562.4,195.1 562.7,196.7 563.0,198.1 563.3,197.1 563.6,196.2 564.0,195.4 564.3,196.1 564.6,195.8 564.9,194.3 565.3,195.6 565.6,195.2 565.9,194.5 566.2,192.3 566.5,191.5 566.9,197.3 567.2,223.7 567.5,232.6 567.8,231.6 568.1,231.9 568.5,232.5 568.8,232.5 569.1,230.4 569.4,230.9 569.8,230.4 570.1,231.3 570.4,230.6 570.7,229.9 571.0,228.4 571.4,201.4 571.7,191.0 572.0,190.7 572.3,190.1 572.6,189.2 573.0,189.3 573.3,190.7 573.6,191.8 573.9,191.7 574.3,191.2 574.6,191.9 574.9,191.9 575.2,191.2 575.5,191.2 575.9,191.8 576.2,191.6 576.5,191.1 576.8,191.1 577.1,190.0 577.5,189.8 577.8,191.9 578.1,191.6 578.4,191.9 578.8,193.4 579.1,194.9 579.4,194.7 579.7,193.9 580.0,195.8 580.4,196.6 580.7,196.9 581.0,196.6 581.3,195.7 581.6,196.8 582.0,196.6 582.3,196.5 582.6,193.3 582.9,193.2 583.3,194.1 583.6,194.7 583.9,194.2 584.2,193.9 584.5,193.5 584.9,193.4 585.2,195.5 585.5,194.4 585.8,194.4 586.2,194.9 586.5,196.4 586.8,196.1 587.1,196.8 587.4,197.5 587.8,197.4 588.1,196.5 588.4,195.8 588.7,196.4 589.0,194.3 589.4,194.3 589.7,193.0 590.0,193.2 590.3,193.9 590.7,194.5 591.0,194.2 591.3,192.7 591.6,195.4 591.9,196.1 592.3,197.1 592.6,195.5 592.9,194.2 593.2,194.4 593.5,195.0 593.9,195.4 594.2,194.8 594.5,194.4 594.8,194.9 595.2,194.6 595.5,194.4 595.8,193.1 596.1,193.3 596.4,193.4 596.8,194.4 597.1,194.3 597.4,194.5 597.7,194.4 598.0,194.4 598.4,191.9 598.7,193.0 599.0,192.4 599.3,194.7 599.7,194.4 600.0,194.1 600.3,192.3 600.6,192.8 600.9,194.4 601.3,194.4 601.6,192.8 601.9,192.8 602.2,192.3 602.5,192.9 602.9,191.9 603.2,191.2 603.5,190.6 603.8,190.7 604.2,190.5 604.5,190.9 604.8,189.9 605.1,191.3 605.4,190.8 605.8,189.4 606.1,188.9 606.4,190.1 606.7,191.7 607.0,192.9 607.4,192.9 607.7,191.9 608.0,191.2 608.3,190.0 608.7,188.9 609.0,188.6 609.3,188.4 609.6,190.2 609.9,191.3 610.3,194.7 610.6,195.7 610.9,196.2 611.2,195.3 611.5,195.3 611.9,195.9 612.2,195.7 612.5,198.4 612.8,199.4 613.2,199.0 613.5,197.7 613.8,197.4 614.1,197.0 614.4,196.8 614.8,194.4 615.1,193.6 615.4,192.1 615.7,192.7 616.1,192.0 616.4,190.9 616.7,191.5 617.0,191.9 617.3,193.0 617.7,192.8 618.0,194.2 618.3,195.3 618.6,196.4 618.9,196.2 619.3,196.1 619.6,195.0 619.9,195.2 620.2,196.5 620.6,197.4 620.9,198.2 621.2,197.0 621.5,196.2 621.8,195.6 622.2,195.1 622.5,193.7 622.8,192.6 623.1,192.9 623.4,192.0 623.8,192.9 624.1,191.1 624.4,192.7 624.7,191.3 625.1,193.4 625.4,191.0 625.7,191.5 626.0,191.5 626.3,193.1 626.7,193.1 627.0,191.7 627.3,192.0 627.6,191.8 627.9,193.0 628.3,193.2 628.6,193.3 628.9,192.7 629.2,194.1 629.6,193.3 629.9,192.8 630.2,194.7 630.5,194.6 630.8,195.9 631.2,194.8 631.5,194.6 631.8,193.4 632.1,192.8 632.4,193.4 632.8,194.5 633.1,193.9 633.4,195.1 633.7,195.0 634.1,192.1 634.4,192.1 634.7,192.4 635.0,193.7 635.3,193.4 635.7,193.2 636.0,194.8 636.3,195.5 636.6,195.9 636.9,194.8 637.3,193.0 637.6,191.7 637.9,192.0 638.2,190.9 638.6,190.7 638.9,190.8 639.2,192.3 639.5,191.8 639.8,191.1 640.2,191.2 640.5,190.5 640.8,189.1 641.1,189.1 641.4,191.7 641.8,192.0 642.1,192.8 642.4,191.8 642.7,191.8 643.1,191.9 643.4,191.8 643.7,191.8 644.0,192.0 644.3,191.5 644.7,190.7 645.0,190.6 645.3,191.2 645.6,192.1 645.9,192.2 646.3,193.5 646.6,194.6 646.9,194.3 647.2,194.1 647.6,192.6 647.9,194.7 648.2,194.8 648.5,196.3 648.8,195.1 649.2,193.7 649.5,194.1 649.8,194.0 650.1,195.0 650.5,194.6 650.8,194.0 651.1,193.7 651.4,193.7 651.7,193.0 652.1,192.4 652.4,193.4 652.7,193.4 653.0,192.9 653.3,193.1 653.7,189.9 654.0,189.8 654.3,189.9 654.6,190.6 655.0,189.4 655.3,188.3 655.6,187.8 655.9,188.4 656.2,188.9 656.6,189.5 656.9,189.4 657.2,188.9 657.5,189.2 657.8,189.3 658.2,188.4 658.5,190.0 658.8,190.8 659.1,191.3 659.5,189.6 659.8,189.7 660.1,188.5 660.4,189.4 660.7,190.4 661.1,193.3 661.4,194.6 661.7,194.8 662.0,194.0 662.3,192.4 662.7,192.4 663.0,193.0 663.3,193.8 663.6,194.9 664.0,194.3 664.3,194.4 664.6,193.6 664.9,193.0 665.2,193.0 665.6,193.6 665.9,194.6 666.2,196.2 666.5,195.6 666.8,196.9 667.2,196.1 667.5,196.5 667.8,195.5 668.1,195.4 668.5,195.4 668.8,194.1 669.1,193.0 669.4,192.3 669.7,193.2 670.1,193.8 670.4,194.1 670.7,193.9 671.0,194.5 671.3,194.7 671.7,195.1 672.0,194.8 672.3,193.1 672.6,192.9 673.0,193.5 673.3,193.2 673.6,194.0 673.9,193.1 674.2,191.8 674.6,191.0 674.9,192.6 675.2,192.8 675.5,192.4 675.8,191.0 676.2,191.3 676.5,190.9 676.8,191.9 677.1,193.8 677.5,194.3 677.8,195.7 678.1,195.5 678.4,196.2 678.7,196.0 679.1,197.9 679.4,199.2 679.7,197.7 680.0,197.8 680.4,197.3 680.7,199.0 681.0,198.2 681.3,198.0 681.6,195.4 682.0,194.7 682.3,193.2 682.6,194.6 682.9,194.3 683.2,194.9 683.6,193.6 683.9,193.8 684.2,193.7 684.5,193.4 684.9,192.5 685.2,191.6 685.5,191.8 685.8,192.0 686.1,192.8 686.5,191.4 686.8,191.4 687.1,189.7 687.4,192.0 687.7,191.6 688.1,191.8 688.4,191.6 688.7,191.1 689.0,191.2 689.4,191.6 689.7,191.0 690.0,190.9 690.3,190.2 690.6,190.4 691.0,189.4 691.3,190.7 691.6,191.3 691.9,192.9 692.2,191.9 692.6,191.5 692.9,190.6 693.2,190.9 693.5,192.2 693.9,192.7 694.2,192.7 694.5,191.6 694.8,191.9 695.1,192.0 695.5,192.4 695.8,192.8 696.1,192.3 696.4,191.8 696.7,192.1 697.1,192.1 697.4,192.9 697.7,193.8 698.0,194.1 698.4,192.0 698.7,191.4 699.0,192.5 699.3,193.9 699.6,192.0 700.0,190.6 700.3,191.9 700.6,192.0 700.9,191.6 701.2,191.3 701.6,191.8 701.9,191.1 702.2,191.7 702.5,190.8 702.9,191.1 703.2,191.5 703.5,192.3 703.8,191.0 704.1,190.3 704.5,190.6 704.8,192.2 705.1,193.4 705.4,193.4 705.7,194.4 706.1,194.2 706.4,194.7 706.7,194.9 707.0,194.6 707.4,195.0 707.7,194.7 708.0,193.9 708.3,193.5 708.6,193.2 709.0,193.6 709.3,192.5 709.6,191.9 709.9,192.2 710.2,193.3 710.6,191.7 710.9,190.6 711.2,189.3 711.5,189.2 711.9,188.6 712.2,188.9 712.5,188.6"/>
<use href="#st" x="75.7" y="615.7"/>
<use href="#st" x="82.2" y="615.7"/>
<use href="#st" x="88.6" y="615.7"/>
<use href="#st" x="95.0" y="632.0"/>
<use href="#st" x="101.5" y="615.7"/>
<use href="#st" x="107.9" y="619.8"/>
<use href="#st" x="114.3" y="625.9"/>
<use href="#st" x="120.8" y="635.4"/>
<use href="#st" x="127.2" y="654.3"/>
<use href="#st" x="133.6" y="651.6"/>
<use href="#st" x="140.1" y="604.2"/>
<use href="#st" x="146.5" y="576.6"/>
<use href="#st" x="152.9" y="563.0"/>
<use href="#st" x="159.3" y="583.3"/>
<use href="#st" x="165.8" y="439.7"/>
<use href="#st" x="172.2" y="411.9"/>
<use href="#st" x="178.6" y="432.0"/>
<use href="#st" x="185.1" y="438.8"/>
<use href="#st" x="191.5" y="416.5"/>
<use href="#st" x="197.9" y="377.7"/>
<use href="#st" x="204.4" y="402.8"/>
<use href="#st" x="210.8" y="436.5"/>
<use href="#st" x="217.2" y="433.5"/>
<use href="#st" x="223.7" y="428.3"/>
<use href="#st" x="230.1" y="403.5"/>
<use href="#st" x="236.5" y="411.9"/>
<use href="#st" x="243.0" y="391.9"/>
<use href="#st" x="249.4" y="466.1"/>
<use href="#st" x="255.8" y="443.8"/>
<use href="#st" x="262.3" y="368.9"/>
<use href="#st" x="268.7" y="342.5"/>
<use href="#st" x="275.1" y="340.5"/>
<use href="#st" x="281.6" y="322.0"/>
<use href="#st" x="288.0" y="338.0"/>
<use href="#st" x="294.4" y="302.0"/>
<use href="#st" x="300.9" y="268.9"/>
<use href="#st" x="307.3" y="260.0"/>
<use href="#st" x="313.7" y="287.8"/>
<use href="#st" x="320.1" y="286.1"/>
<use href="#st" x="326.6" y="288.1"/>
<use href="#st" x="333.0" y="278.0"/>
<use href="#st" x="339.4" y="246.1"/>
<use href="#st" x="345.9" y="226.0"/>
<use href="#st" x="352.3" y="208.3"/>
<use href="#st" x="358.7" y="197.4"/>
<use href="#st" x="365.2" y="203.3"/>
<use href="#st" x="371.6" y="190.1"/>
<use href="#st" x="378.0" y="190.1"/>
<use href="#st" x="384.5" y="185.0"/>
<use href="#st" x="390.9" y="197.4"/>
<use href="#st" x="397.3" y="191.9"/>
<use href="#st" x="403.8" y="183.5"/>
<use href="#st" x="410.2" y="194.1"/>
<use href="#st" x="416.6" y="188.3"/>
<use href="#st" x="423.1" y="187.3"/>
<use href="#st" x="429.5" y="207.3"/>
<use href="#st" x="435.9" y="185.0"/>
<use href="#st" x="442.4" y="191.4"/>
<use href="#st" x="448.8" y="188.3"/>
<use href="#st" x="455.2" y="190.1"/>
<use href="#st" x="461.7" y="190.1"/>
<use href="#st" x="468.1" y="190.1"/>
<use href="#st" x="474.5" y="190.1"/>
<use href="#st" x="480.9" y="185.9"/>
<use href="#st" x="487.4" y="185.0"/>
<use href="#st" x="493.8" y="174.3"/>
<use href="#st" x="500.2" y="173.9"/>
<use href="#st" x="506.7" y="177.2"/>
<use href="#st" x="513.1" y="183.7"/>
<use href="#st" x="519.5" y="179.1"/>
<use href="#st" x="526.0" y="189.5"/>
<use href="#st" x="532.4" y="181.0"/>
<use href="#st" x="538.8" y="169.4"/>
<use href="#st" x="545.3" y="179.1"/>
<use href="#st" x="551.7" y="183.5"/>
<use href="#st" x="558.1" y="171.2"/>
<use href="#st" x="564.6" y="167.5"/>
<use href="#st" x="571.0" y="175.2"/>
<use href="#st" x="577.4" y="171.7"/>
<use href="#st" x="583.9" y="167.2"/>
<use href="#st" x="590.3" y="169.9"/>
<use href="#st" x="596.7" y="169.0"/>
<use href="#st" x="603.2" y="168.4"/>
<use href="#st" x="609.6" y="168.4"/>
<use href="#st" x="616.0" y="173.6"/>
<use href="#st" x="622.5" y="169.4"/>
<use href="#st" x="628.9" y="165.1"/>
<use href="#st" x="635.3" y="170.3"/>
<use href="#st" x="641.7" y="170.3"/>
<use href="#st" x="648.2" y="172.7"/>
<use href="#st" x="654.6" y="165.1"/>
<use href="#st" x="661.0" y="190.5"/>
<use href="#st" x="667.5" y="172.7"/>
<use href="#st" x="673.9" y="166.2"/>
<use href="#st" x="680.3" y="170.3"/>
<use href="#st" x="686.8" y="168.4"/>
<use href="#st" x="693.2" y="165.1"/>
<use href="#st" x="699.6" y="166.2"/>
<use href="#st" x="706.1" y="172.7"/>
<use href="#st" x="712.5" y="190.1"/>
<path d="M69.5 135V712.5H713" stroke="#262626" stroke-width="1" fill="none"/>
<path d="M69.5 712V706M133.8 712V706M198.1 712V706M262.4 712V706M326.7 712V706M391.0 712V706M455.3 712V706M519.6 712V706M583.9 712V706M648.2 712V706M712.5 712V706M69.5 135.5H76M69.5 231.7H76M69.5 327.8H76M69.5 424.0H76M69.5 520.2H76M69.5 616.4H76M69.5 712.5H76" stroke="#262626" stroke-width="1" fill="none"/>
</svg>
<!-- chart text -->
<div class="tick" style="left:0;width:65.5px;text-align:right;top:128px">1000</div>
<div class="tick" style="left:0;width:65.5px;text-align:right;top:224px">800</div>
<div class="tick" style="left:0;width:65.5px;text-align:right;top:320px">600</div>
<div class="tick" style="left:0;width:65.5px;text-align:right;top:417px">400</div>
<div class="tick" style="left:0;width:65.5px;text-align:right;top:513px">200</div>
<div class="tick" style="left:0;width:65.5px;text-align:right;top:609px">0</div>
<div class="tick" style="left:0;width:65.5px;text-align:right;top:706px">-200</div>
<div class="tick xt" style="left:39.5px">0</div>
<div class="tick xt" style="left:103.8px">200</div>
<div class="tick xt" style="left:168.1px">400</div>
<div class="tick xt" style="left:232.4px">600</div>
<div class="tick xt" style="left:296.7px">800</div>
<div class="tick xt" style="left:361px">1000</div>
<div class="tick xt" style="left:425.3px">1200</div>
<div class="tick xt" style="left:489.6px">1400</div>
<div class="tick xt" style="left:553.9px">1600</div>
<div class="tick xt" style="left:618.2px">1800</div>
<div class="tick xt" style="left:682.5px">2000</div>
<div class="tick" style="left:241px;width:300px;text-align:center;top:730px;font-size:13px">Episode Number</div>
<div class="tick" style="left:-122.7px;width:300px;text-align:center;top:416px;font-size:13px;transform:rotate(-90deg)">Episode Reward</div>
<div class="tick b" style="left:191px;width:400px;text-align:center;top:117.5px;font-size:13.2px">Episode reward for rlQubeServo with rlTD3Agent</div>
<svg class="abs" style="left:593px;top:114px" width="120" height="21" viewBox="0 0 120 21" fill="none" stroke="#686868" stroke-width="1.1" stroke-linejoin="round" stroke-linecap="round">
  <rect x="0" y="0" width="120" height="21" fill="#f8f8f8" stroke="none"/>
  <!-- export -->
  <path d="M4.6 11.6H2.2V15.7H14.8V11.6H10" stroke="#9a9a9a" stroke-width="1"/>
  <path d="M4.5 13.2C4.4 8.2 7 5.6 9.9 5L10.4 3.1L14.7 6.8L11.4 9.6L10.5 7.9C8.6 8.4 6.8 10 6.7 13.4Z" stroke="#8c8c8c" stroke-width=".9"/>
  <path d="M14.3 16.9H17.9V13.3Z" fill="#808080" stroke="none"/>
  <!-- datatip -->
  <path d="M24.7 2.5H37.3V17.2H24.7V11.6L22.6 9.8L24.7 8Z"/><path d="M27.2 8.5H34.8M27.2 11.4H34.8"/>
  <!-- hand -->
  <path d="M46.8 17.2L43.8 11.6L42.4 9.7C41.8 8.6 43 7.8 43.9 8.6L46.2 10.9V4.6C46.2 3.1 48.3 3.1 48.3 4.6V9M48.3 4C48.3 1.9 51.3 1.9 51.3 3.6V9M51.3 4.2C51.3 2.4 54.3 2.4 54.3 4.2V9.5M54.3 6.2C54.3 4.4 57.3 4.4 57.3 6.3V11C57.3 13.5 56.3 15 55.7 17.2H46.8"/>
  <!-- zoom in -->
  <circle cx="68.4" cy="8.5" r="5.95"/><path d="M72.8 13L77.7 17.6M65.1 8.5H71.8M68.4 5.2V11.8"/>
  <!-- zoom out -->
  <circle cx="88.6" cy="8.5" r="5.95"/><path d="M92.8 13L97.7 17.6M85.1 8.5H91.9"/>
  <!-- home -->
  <path d="M102.5 10.1L110 2.5L117.6 10.1M104.5 8.6V17.2H108.1V12.1H112.1V17.2H115.6V8.6"/>
  <path d="M113.4 3.2H116.1V5.9Z" fill="#686868" stroke-width=".5"/>
</svg>
</div>

</body></html>
